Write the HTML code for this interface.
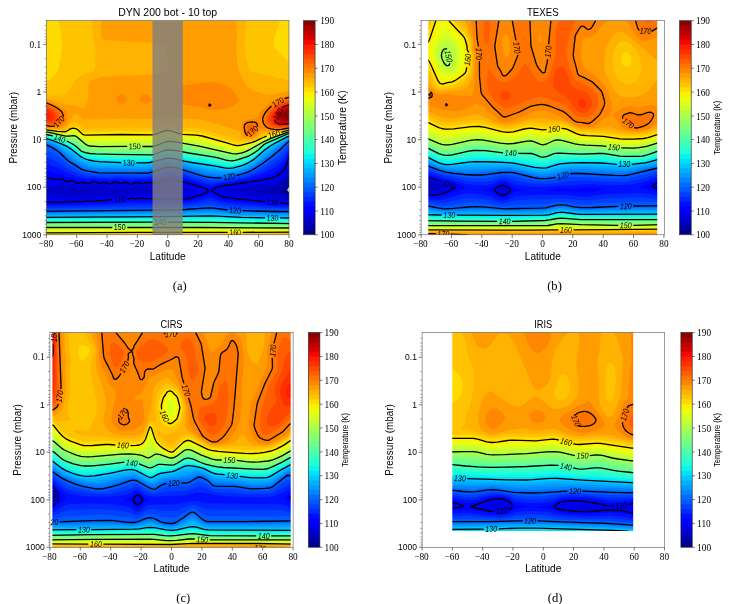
<!DOCTYPE html>
<html><head><meta charset="utf-8"><title>Temperature cross-sections</title>
<style>html,body{margin:0;padding:0;background:#fff}svg{display:block;will-change:transform}text{fill:#000}</style></head>
<body>
<svg width="735" height="604" viewBox="0 0 735 604">
<rect width="735" height="604" fill="#fff"/>
<!-- panel a -->
<g>
<path fill="#000089" d="M41.9 17.7l251.6 0 0 169.4-4.5 0-1.6 2.7 0.1 1 1.5 1.1 4.5 0 0 45.9-251.6 0z"/>
<path fill="#0000a4" d="M41.9 17.7l251.6 0 0 163.2-4.5 0-3 5.8-2.1 3.1-0.1 1 2.4 2 2.8 1.5 4.5 0 0 43.5-251.6 0z"/>
<path fill="#0000bf" d="M41.9 17.7l251.6 0 0 156.9-4.5 0-3.2 7.2-2 3-2.3 2.1-3 1.3-5.8 1.6-1.9 1 10.7 2.4 7.5 3.5 4.5 0 0 41.1-251.6 0z"/>
<path fill="#0000d6" d="M41.9 17.7l251.6 0 0 150.6-4.5 0-3 8-1.5 2.6-3 3.2-3 1.7-9 2.4-25.9 3.6-3 1 4.4 1 32 3.9 4.5 0.9 7.5 2.4 4.5 0 0 38.8-251.6 0 0-45.9 12 0.5 3-0.8 4.5 2.7 1.5-0.2 3-2.6 1.5-0.4 2.6 2.7 1.9 1 1.5-0.1 4.4-2.7 3 2.1 1.5 0.6 1.5 0 4.5-2.8 4.5 2.6 1.5 0 1.5-0.7 3-2.9 4.5 2.9 1.5 0.1 2-1.1 1.8-2-2.3-2.3-1.5-0.9-1.5 0.1-3 2.4-1.5 0.6-4.5-3.9-1.5 0.1-4.5 3.2-4.5-2.7-1.5-0.1-4.5 2.7-1.4-0.6-3-2.6-1.5-0.3-1.5 0.9-3 3.2-1.5-0.4-3-3.3-1.5-0.3-4.5 3.2-4.5-1-10.5 0.4zM113.8 187.8l-2.8 3 0.6 1 2.2 1.6 1.5 0.2 1.5-0.5 2.4-2.3-2.4-2.8-1.5-0.7zM125.8 187.6l-1.5 0.5-2.6 2.7 2.1 2 2 0.6 1.9-0.6 2.1-2-2.5-2.6zM136.3 187.5l-1.5 0.8-2.3 2.5 2.2 2 1.6 0.5 1.9-0.5 2.2-2-0.5-1-2.2-2zM145.2 188.8l-1.8 2 1.8 1.5 1.5 0.2 3-0.9 8.4-0.8-8.4-1.2-3-1.1z"/>
<path fill="#0000f1" d="M41.9 17.7l251.6 0 0 144.4-4.5 0-3 9-1.5 2.8-3 3.5-6 3.2-12 2.8-38 5.4-4.5 1-1.2 1 1.3 1 2 0.7 9 1.7 46.4 5.3 10.5 1.9 4.5 0 0 36.4-251.6 0 0-40.6 15-0.1 4.5 1.1 6-1.2 4.5 1.4 5.9-1.3 4.5 1.2 6-1.5 6 1.1 4.5-1.7 6 1.1 4.5-1.9 6 1.4 4.5-1.8 1.5 0 4.5 1.3 4.5-1.7 1.5-0.1 4.5 1.6 5.9-1.7 4.5 1.3 3-0.5 25.5-0.4 12-1.1 7-1.9 1.8-1-1.1-1-9.2-2.6-16.5-2.1-4.5 0-12 1-3-0.1-3-0.9-1.5 0.3-3 2-1.5-0.3-3-2.3-1.4-0.2-4.5 3-1.5-0.1-4.5-2.7-1.5 0.3-3 2-1.5 0-3-2.4-1.5-0.5-1.5 0.4-3 2.6-1.5 0.3-4.5-2.7-1.5 0-3 1.9-1.5 0.2-4.5-3-1.5 0.1-4.5 3-4.5-2.2-1.5-0.1-4.5 2.1-1.4-0.6-3-2.5-1.5-0.3-4.5 2.9-1.5-0.4-3-2.7-1.5-0.4-4.5 2.1-4.5-1.3-10.5-0.3z"/>
<path fill="#0000ff" d="M41.9 17.7l251.6 0 0 138.7-4.5 0-3 9.5-1.5 3-3.2 3.9-5.8 3.5-6 2-9 2-41.9 6.4-3 1.3-4 2.8 8.5 5.1 7.5 1.8 39.3 4.1 20.6 1.7 6 0.1 0 34.2-251.6 0 0-35.7 41.9-0.4 21-1.1 6-1 4.5 0.2 4.5-0.9 6 0.2 6-1 4.5 0.6 5.9-0.7 4.5 0.7 19.5 0.6 18-0.3 6.7-1.2 6.9-2 5.4-2 5.5-3-4.8-3-12.7-4-8.3-2-12.2-1.9-6 0.2-10.5 2.5-9-0.1-3 1.3-4.5-1.5-1.4 0-4.5 2.3-1.5-0.1-4.5-2-4.5 1-1.5-0.1-3-1.5-1.5-0.2-6 2.6-4.5-1.9-6 1-4.5-2-2.1 0.4-3.9 2.1-6-1.7-4.5 1.3-4.4-2.8-1.5-0.3-4.5 1.5-1.5-0.4-3-2.1-1.5-0.4-4.5 0.7-9-2.1-6-0.2z"/>
<path fill="#0010ff" d="M41.9 17.7l251.6 0 0 134.2-4.5 0-3 9.1-3 5-4.5 3.9-6 3.2-7.3 2.7-9.1 2.4-25.5 4.8-12 1.7-7.5 2.8-1.5 0-6.8-2.7-15.6-4.7-15-2.8-6-0.1-13.5 3.2-6 0-4.5 0.8-5.9-0.7-4.5 1.5-1.5 0-4.5-1.4-4.5 0.3-6-1-6 1.7-4.5-1.1-6 0.3-4.5-1.2-1.5 0-4.5 1.5-6-1.3-4.5 0.1-4.4-2.3-6-0.6-6-2.5-12-3.1-3-0.6-4.5 0zM208.8 194.8l2.3-0.2 9 4.2 7.5 1.6 40.4 3.6 25.5 1.4 0 32.4-251.6 0 0-33.5 50.9-1 39-2.4 10.4-0.1 24 0.9 18-0.3 6-0.9 7.5-1.8z"/>
<path fill="#0028ff" d="M41.9 17.7l251.6 0 0 131.3-4.5 0-3 7.4-1.5 2.7-3 3.5-6 4.5-9.3 4.7-8.6 3.3-10.5 3.1-19.5 3.7-10.5 1.4-6 1.7-3-0.5-22.4-7.1-9-2.1-6-0.7-4.5 0.1-13.5 3.5-10.5 1-5.9-0.5-4.5 1-6-1-4.5 0.2-6-0.7-6 1.2-4.5-0.8-6 0.1-4.5-0.9-7.5 0.6-9-2-4.4-2-6-1.9-9-4.4-9-3.3-3-0.7-4.5 0zM206.7 198.8l2.9-0.8 1.5 0 10.5 3.9 7.5 1.1 38.9 2.9 25.5 1.1 0 30.8-251.6 0 0-31.7 41.9-0.6 48-2.2 34.4 0.5 16.5-0.2 10.5-1.4z"/>
<path fill="#0040ff" d="M41.9 17.7l251.6 0 0 128.4-4.5 0-4.5 8.1-4.5 4.8-9 6.3-12.2 6.5-8.7 3.5-7.5 2.1-16.5 3.2-15 2-3-0.5-25.4-7.8-6-1.5-6-0.7-4.5 0.1-15 4.2-9 0.8-5.9-0.3-6 0.6-4.5-0.7-10.5-0.3-6 0.7-10.5-0.5-6-0.9-6 0-7.5-2-10.4-4.7-10.5-6.7-7.5-3.5-4.5-1.5-4.5 0zM207.5 201.8l3.6-0.3 10.5 2.9 7.5 1 37.4 2.3 27 0.9 0 29.2-251.6 0 0-29.9 41.9-0.5 48-1.6 50.9-0.2 9-0.8z"/>
<path fill="#0058ff" d="M41.9 17.7l251.6 0 0 125.8-4.5 0-6 7.6-6 5.5-9.8 7.2-10.2 6-6.9 3.3-6 2.1-21 4.3-13.5 0.4-29.9-8.9-9-1.4-4.5 0.1-15 4.7-9 0.9-43.4-0.6-12-1.4-6-1.7-11.9-6.5-9-7.4-6-3.7-7.5-3.2-4.5 0zM201.9 205.8l9.2-0.9 12 2.3 6 0.7 35.9 1.7 28.5 0.6 0 27.6-251.6 0 0-28.1 139.3-1.9z"/>
<path fill="#006cff" d="M41.9 17.7l251.6 0 0 123.5-4.5 0-10.2 9.6-8.4 7-9.6 7-9.2 5.5-9 3.6-19.5 3.9-7.5 0.1-9-1-28.4-8.6-7.5-1.1-4.5 0.2-16.5 5.3-7.5 0.6-43.4-0.5-12-1.9-6-2-11.9-7.6-9-8.5-6-4.3-7.5-3.7-4.5 0zM196.6 208.8l14.5-0.8 13.8 1.8 14.7 0.8 53.9 1.1 0 26.1-251.6 0 0-26.5 134.8-1.5z"/>
<path fill="#0084ff" d="M41.9 17.7l251.6 0 0 122-4.6 0.1-14.9 12.4-11.2 8.6-7.1 5-5.6 3.3-9 3.5-15 2.9-7.5 0.3-12-1.3-28.4-8.1-7.5-1.1-4.5 0.2-15 4.8-7.5 0.9-44.9-0.7-10.5-1.6-6-1.8-13.4-8.8-8.4-7.5-6-4-6.6-3.3-1.5-0.5-4.5 0zM190.5 210.8l20.6-0.9 15 1.5 13.5 0.7 53.9 0.9 0 24.8-251.6 0 0-25.2 122.8-1.1z"/>
<path fill="#009cff" d="M41.9 17.7l251.6 0 0 121-4.5 0-1.5 0.9-29.1 22.2-8.3 5.4-9 3.7-12 2.5-9 0.3-13.5-1.7-29.9-7.6-7.5-0.9-3.4 0.3-14.6 4.4-7.5 0.9-44.9-0.9-10.5-1.6-6-2-13.4-9.1-7.2-5.7-4.5-3-9.3-4.6-6-0.3zM197.6 211.8l13.5-0.4 30 2.1 52.4 0.8 0 23.5-251.6 0 0-24 127.3-1z"/>
<path fill="#00b0ff" d="M41.9 17.7l251.6 0 0 120.1-4.5 0-1.9 1-17.5 12-15 11.7-6 3.6-7.5 3.1-10.5 2.3-9 0.1-15-2-11.9-2.5-18-4.4-7.5-1-3 0.1-15 4.4-7.5 0.8-44.9-1-10.5-1.6-6-2.3-23.9-16.3-10.5-4.7-6-0.3zM184.3 213.8l26.8-0.9 31.5 1.9 50.9 0.7 0 22.3-251.6 0 0-22.8z"/>
<path fill="#00c8ff" d="M41.9 17.7l251.6 0 0 119.2-4.5 0-1.5 0.7-12.3 7.2-10.2 7-10.4 8.8-6 3.7-7.5 3.2-10.5 2.4-7.5-0.3-19.5-2.9-26.9-5.7-7.5-1.1-3 0.1-15 4.1-7.5 0.8-44.9-1.2-9-1.3-6-2-3-1.7-11.9-8.7-9.1-5.2-11.9-4.8-6-0.3zM194.7 214.8l17.9-0.3 30 1.7 50.9 0.6 0 21-251.6 0 0-21.7 122.8-0.6z"/>
<path fill="#00e0fb" d="M41.9 17.7l251.6 0 0 118.4-4.5 0-1.5 0.6-13.6 7.1-8.9 5.9-10.4 9.1-7.5 4.6-4.5 2-6 1.8-7.5 1.1-32.9-5-27-5.2-3 0.2-15 3.9-6 0.7-32.9-0.6-19.5-1.4-6-1.3-4.5-2.1-11.9-8.9-9.1-4.8-13.4-4.8-6-0.3zM160.3 216.8l50.8-0.9 31.5 1.5 50.9 0.6 0 19.8-251.6 0 0-20.5z"/>
<path fill="#0cf4eb" d="M41.9 17.7l251.6 0 0 117.8-4.5 0-1.5 0.5-15.6 7.8-8.4 5.6-8.9 8-7.5 4.5-9 3.4-7.5 1.4-4.5-0.3-10.5-2.2-22.4-3.3-24-4.4-4.5 0.5-12 3.4-7.5 0.8-34.4-0.6-19.5-1.5-4.5-1-4.5-1.9-11.9-9.1-8.4-4.3-14.1-4.8-6-0.3zM175.3 217.8l35.8-0.5 31.5 1.2 50.9 0.6 0 18.7-251.6 0 0-19.5z"/>
<path fill="#1fffd7" d="M41.9 17.7l251.6 0 0 117.1-4.5 0-1.5 0.6-17.3 8.4-6.7 4.3-8.9 8.1-7.5 4.4-9 3.3-7.5 1.3-4.5-0.3-12-2.7-19.4-2.8-19.5-3.8-6-0.7-4.5 0.4-12 3.7-6 0.6-34.4-0.5-21-1.4-4.5-0.9-4.5-1.7-10.8-8.3-9.4-5-14.2-4.7-6-0.2zM183.7 218.8l28.9-0.2 30 1 50.9 0.7 0 17.5-251.6 0 0-18.4z"/>
<path fill="#33ffc4" d="M41.9 17.7l251.6 0 0 116.7-4.5 0-1.5 0.5-19 8.9-5 3.2-8.9 8-7.5 4.3-9 3.2-7.5 1.2-4.5-0.4-12-2.9-23.9-3.6-15-2.9-6-0.6-4.5 0.4-10.5 3.6-6 0.7-35.9-0.5-22.5-1.3-7.5-2.2-10.7-8.2-10.2-5.4-13.5-4.1-6-0.2zM41.9 220.8l0-0.4 164.7-0.6 86.9 1.6 0 16.4-251.6 0z"/>
<path fill="#43ffb4" d="M41.9 17.7l251.6 0 0 116.2-4.5 0-1.5 0.5-20.7 9.4-3.3 2.1-8.9 7.9-7.5 4.2-10.5 3.5-6 0.7-4.5-0.5-12-3-23.9-3.7-13.5-2.6-7.5-0.7-4.5 0.4-10.5 3.9-3 0.4-35.9-0.4-25.5-1.1-7.5-2-10.4-8.1-10.5-5.3-13.5-4-6-0.2zM41.9 221.8l0-0.3 158.7-0.4 92.9 1.4 0 15.3-251.6 0z"/>
<path fill="#56ffa0" d="M41.9 17.7l251.6 0 0 115.8-4.5 0-1.5 0.5-20.3 8.8-3.7 2.1-8.9 7.7-7.5 4.1-9 3-6 1.1-6-0.7-13.1-3.3-36.3-6.1-6-0.6-6 0.4-10.5 4-3 0.4-41.9-0.6-21-1-6-1.6-8.5-6.9-11.9-6-13.9-4-6.1-0.3zM41.9 222.8l0-0.3 31.5-0.2 115.3-0.1 104.8 1.4 0 14.2-251.6 0z"/>
<path fill="#6aff8d" d="M41.9 17.7l251.6 0 0 115.4-4.5 0-1.5 0.5-19.6 8.2-5.2 3-8.1 6.7-7.5 4.1-9 2.9-6 0.8-6-0.7-13.5-3.4-35.9-6.2-6-0.6-6 0.4-10.5 4.2-3 0.3-46.4-0.6-15-0.7-4.5-0.9-3-1.2-7.4-6.2-13.4-5.9-13.6-3.7-6-0.2zM41.9 223.8l0-0.3 28.5-0.1 110.8-0.1 112.3 1.2 0 13.3-251.6 0z"/>
<path fill="#7dff7a" d="M41.9 17.7l251.6 0 0 115-4.5 0-1.5 0.5-20.8 8.6-3.5 2-8.6 6.5-9 4.8-7.5 2.2-6 0.6-6-0.8-16.5-4-32.9-5.8-6-0.6-6 0.5-10.5 4.1-3 0.4-50.9-0.6-10.5-0.5-3.5-0.8-4-2-5.9-5.1-3-1.7-19.9-6.2-7.1-1.5-4.5 0zM41.9 224.8l137.8-0.5 113.8 1.1 0 12.4-251.6 0z"/>
<path fill="#8dff6a" d="M41.9 17.7l251.6 0 0 114.7-4.5 0-1.5 0.4-19.5 7.8-4.5 2.3-11.9 8-6 3.1-7.5 2.1-4.5 0.5-6-0.7-12-3.1-13.5-2.6-25.4-4.6-6-0.6-3 0-3 0.5-12 4.4-52.4-0.2-10.5-0.6-3-0.8-2.9-1.5-7.5-6.2-3-1.4-6-1-7.9-2.4-10.1-2.5-3-0.5-4.5 0zM41.9 225.8l137.8-0.4 113.8 0.9 0 11.5-251.6 0z"/>
<path fill="#a0ff56" d="M41.9 17.7l251.6 0 0 114.3-4.5 0-1.5 0.5-19.5 7.6-5.2 2.7-17.2 10-7.5 2.1-4.5 0.4-6-0.9-28.5-6.5-22.4-4-6-0.6-3 0-3 0.5-9 3.7-3 0.8-52.4-0.1-9-0.4-3-0.5-3-1.4-10.4-8.1-9-0.8-18-4.4-6-0.2zM41.9 226.8l136.3-0.4 115.3 0.7 0 10.7-251.6 0z"/>
<path fill="#b4ff43" d="M41.9 17.7l251.6 0 0 114-4.5 0-1.5 0.4-21 8.2-20.9 11.3-6 1.7-4.5 0.6-7.6-1.1-28.4-6.7-22.4-3.9-7.5-0.7-4.5 0.6-9 3.7-3 0.7-53.9 0.1-7.5-0.4-3-0.5-1.9-0.9-11.5-9-9 0.3-18-3.9-6-0.3zM41.9 227.8l133.3-0.3 118.3 0.5 0 9.8-251.6 0z"/>
<path fill="#c4ff33" d="M41.9 17.7l251.6 0 0 113.6-4.5 0-1.5 0.4-22.5 8.6-19.4 9.9-6 1.7-4.5 0.4-4.5-0.7-30-7.2-31.4-5-4.5 0.5-9 3.7-3 0.7-53.9 0.2-9-0.5-4.5-1.7-8.9-7.3-1.5-0.8-1.5-0.2-7.5 1.2-18-3.5-6-0.2zM41.9 228.8l128.8-0.3 122.8 0.4 0 8.9-251.6 0z"/>
<path fill="#d7ff1f" d="M41.9 17.7l251.6 0 0 113.3-4.5 0-1.5 0.4-21 7.5-20.9 9.9-4.5 1.2-4.5 0.7-4.5-0.5-31.5-7.9-17.9-2.4-13.5-2.7-4.5 0.5-9 3.5-3 0.7-59.9 0.1-4.5-0.4-3-1.1-3-1.9-5.6-4.8-1.8-1-3 0-4.5 1.4-3 0.1-16.5-3-6-0.2zM41.9 229.8l119.8-0.4 131.8 0.3 0 8.1-251.6 0z"/>
<path fill="#ebff0c" d="M41.9 17.7l251.6 0 0 113-6 0.4-21 6.9-20.9 9.3-4.5 1.2-4.5 0.6-4.5-0.7-30-8-19.4-2.3-13.5-3.1-4.5 0.5-9 3.4-3 0.7-31.4-0.2-28.5 0.4-4.5-0.3-4.5-1.3-6-5.1-2.9-1.7-3-0.1-4.5 1.8-3 0.4-18-2.8-4.5 0zM41.9 230.8l113.8-0.4 137.8 0.2 0 7.2-251.6 0z"/>
<path fill="#fbf100" d="M41.9 17.7l251.6 0 0 112.6-6 0.4-21 6.5-11.9 5.3-7.5 2.8-6 1.7-4.5 0.5-3-0.5-31.5-8.7-19.4-1.9-13.5-3.5-4.5 0.3-12 4.1-31.4-0.3-31.5 0.5-6-0.8-1.5-0.8-5.6-5.1-3.3-1.1-1.5 0.2-4.5 2.1-3 0.7-18-2.5-4.5 0zM49.8 231.8l243.7-0.4 0 6.4-251.6 0 0-6z"/>
<path fill="#ffdb00" d="M41.9 17.7l251.6 0 0 112.3-4.5 0-20.8 5.8-4.7 1.5-10.4 4.8-6 1.7-9 1.9-4.5-0.7-31.5-9-5.9-0.8-13.5-0.8-12-3.6-3-0.4-4.5 0.9-10.5 3.5-31.4-0.3-34.5 0.7-3-0.3-1.5-0.8-4.5-4.3-1.4-0.9-3-0.7-3 0.7-3 1.9-3 1-7.5-0.5-10.5-1.5-4.5 0zM59.2 232.8l234.3-0.6 0 5.6-251.6 0 0-4.9z"/>
<path fill="#ffc400" d="M58.6 17.7l221.3 0-0.5 5-5 15-0.4 8.6 0.6 1.4 1.7 2 11.2 11 1.5 1.1 4.5 0 0 67.9-4.5 0-10.5 2.9-13.5 2.9-4.5 1.7-4.4 2.6-4.5 1.4-13.5 1.2-4.5-0.7-31.5-9.1-4.4-0.7-15-0.8-12-3.6-3-0.5-4.5 0.9-9 3.2-3 0.3-29.9-0.3-37.5 0.8-1.5-0.6-4.5-4.2-2.9-1-3 0.4-4.8 3.3-2.7 1.1-6-0.1-12-1.5-4.5 0 0-48.7 4.5 0 1.5-0.6 4.8-3.3 4.2-4.2 1.5-3.1 3.8-21.7-0.8-11.4-2.8-15.6zM72.6 233.8l220.9-0.9 0 4.9-251.6 0 0-3.8z"/>
<path fill="#ffb200" d="M92.1 17.7l153.7 0-0.4 20-0.8 10 1 7 3.4 15 2.6 2 3 0.9 17.9 3.6 15 4.2 6 0.3 0 48.6-4.5 0-14.5 3.5-11 1-3 1.1-3.5 2.9-2.4 1.2-7.5 1.2-12-1.7-33-9.5-4.4-0.7-15-0.8-12-3.6-3-0.5-4.5 0.9-10.5 3.5-31.4-0.4-36 1-3-0.7-4.5-4.3-2.9-1-3 0.6-4.7 4.8-3 2-5.8 0.3-12-1.3-4.5 0 0-34.7 4.5 0 12 1.8 3-0.3 2.4-0.9 2.8-2 2.3-2.5 6-9.5 3.1-3 5.8-3.5 9-2.6 2.3-1.9 0.6-22-2.9-10zM270.5 233.8l23-0.2 0 4.2-120.1 0 0-3z"/>
<path fill="#ff9c00" d="M100.8 17.7l135.1 0 1.2 20-1.2 10 2 21 0.6 2 5.9 12 2.7 3.9 3 2.1 4.5 2.2 11.9 4.2 4.5 0 16.5-4 6-0.2 0 38.1-4.5 0-13.5 2.8-13.5-0.2-1.5 0.7-3.4 3.5-2.5 1.7-3 0.8-4.5 0.3-3-0.7-1.9-1.1-2.6-4.7-1.5-1.6-9-3-27-7.6-4.4-0.7-15-0.8-13.5-3.9-4.5 0.3-12 3.9-31.4-0.3-37.5 1-1.5-0.5-4.5-4.2-1.4-0.7-1.5 0-1.5 0.9-1.9 3.8-4.3 6-1.8 2-2.5 1.5-6 0.9-10.5-1.1-4.5 0 0-29.3 6 0.3 18 6.1 7.5 0.2 4.4 1.2 3 1.5 1.5 0.4 1.5-0.3 2.2-2.4 1.7-5 1.2-18 1-2 10.4-3.1 10.5-1.5 44.9-1.6 7.5-2.1 4.5-2.7 0.3-2-1.7-19-0.8-2-0.8-0.6-4.5-2.2-6-1.2-35.9-1.6-12-1-3-0.8-1.5-1.6-0.2-1zM271.2 234.8l22.3-0.4 0 3.4-22.3 0z"/>
<path fill="#ff8600" d="M202 82.7l7.6-0.4 7.5 0.3 4.5 0.8 4.5 1.8 4.5 2.8 3 2.9 4.5 7.7 0.1 2.1-3.1 3.6-4.5 2.7-6 1.8-7.5 0.9-9-0.3-7.5-2.3-14.9-2.1-4.7-1.3-4.5-3-0.7-2 2-7 2.4-4 2.5-1.8 3-0.9zM119.7 94.7l1.6-0.7 1.5 0 1.5 0.9 1.5 1.9 1.1 2.9-1.1 2-1.5 1.4-1.5 0.6-3-0.4-3.2-2.6-0.3-1 0.5-1.6zM142.9 94.7l2.3-0.8 1.5 0.4 3 2.4 2.3 3-2 2-3.3 1.8-3 0.1-1.5-0.7-1.5-1.2-1.1-2 1.1-2.7zM285.5 95.7l3.5-0.8 4.5 0 0 33.6-4.5 0-9 1.9-4.5 0.4-4.5-0.4-9-1.9-1.5 0.3-4.4 6-3 1.8-6 0.5-2.7-1.3-1.4-3-1.2-6.1 0.5-3 1.2-2 2.1-1.5 1.5-0.4 6.9-1.1 2.8-1 5.6-8 5.4-5 9.2-5.7zM41.9 101.7l0-0.5 4.5 0 4.5 1.4 7 3.1 8.1 5 0.7 2 0.4 7-1 3-1.7 2-3.8 2-4.5 1.1-14.2-0.8z"/>
<path fill="#ff7300" d="M287.4 97.7l6.1-0.3 0 30.6-4.5 0-7.5 1.4-4.5 0.3-6.1-0.9-5-2.1-2.2-3-1.1-4 0.6-3 2.8-5 4.7-5 4.8-3.6 6-3.3zM41.9 103.7l0-0.5 4.5 0 3 0.9 6 2.9 5.5 3.7 1.4 2 1.2 4 0.1 4-0.8 2-2.9 2.1-4.5 1.3-3 0.3-10.5-0.7zM208.8 104.7l0.8-0.6 1.1 0.6-0.3 1-0.8 0.4-0.6-0.4zM247 122.7l6.1-0.7 2.8 0.7 1 1 0.6 3-0.9 4.1-1.8 3-1.7 1.1-4.5 0.7-1.5-0.4-1.5-1.6-1.3-6.9 0.5-2z"/>
<path fill="#ff5d00" d="M287.1 99.7l6.4-0.4 0 27.9-4.5 0-6 1.2-4.5 0.2-4.5-0.6-4.5-1.5-2.4-2.8-1.1-4 0.3-3 2-4 3.5-4 4.9-4 4.8-2.8zM41.9 105.7l0-0.8 4.5 0 1.5 0.4 5.1 2.4 4.3 3 1.9 3 1.1 3 0.2 3-0.6 2.1-2.7 1.9-3.3 1-12-0.3zM249.9 124.7l3.2 0.3 1.4 1.7-0.1 2.1-0.8 2-0.5 0.9-1.5 0.9-1.5 0.2-1.5-0.6-1.5-2.7 0-3 1.5-1.4z"/>
<path fill="#ff4700" d="M286 101.7l3-0.8 4.5 0 0 25.5-4.5 0-9 1.1-4.5-0.5-3.6-1.3-2.1-2-1.2-3 0.2-4 1.2-3 3.2-4 3.4-3 4.9-3zM41.9 106.7l4.5-0.1 1.5 0.4 3.5 1.7 2.8 2 2 3 1.1 3 0.1 3-1.2 2-2.3 1.1-3 0.5-9-0.4z"/>
<path fill="#ff3000" d="M287.4 102.7l6.1-0.3 0 23-4.5 0-4.5 0.9-4.5 0.2-4.3-0.8-2.3-1-1.8-2-1-3 0.3-3 1.1-3 2.4-3 4.1-3.6 4.5-2.7zM41.9 108.7l0-0.4 4.5 0 4.6 2.4 1.7 2 1.5 3 0.2 2-0.5 2.1-1 0.9-2 0.7-9 0z"/>
<path fill="#ff1e00" d="M288.8 103.7l4.7 0 0 20.8-4.5 0-7.5 1-4.5-0.7-2.2-1.1-1.6-2-0.7-3 0.5-3 1.5-3 2.8-3 4.1-3 4.6-2.2zM41.9 110.7l4.5-0.1 1.5 0.8 2.5 3.3 0.4 2-0.3 1-1.1 1.1-1.5 0.4-6 0z"/>
<path fill="#f10800" d="M286.2 105.7l2.8-0.7 4.5 0 0 18.5-4.5 0-7.5 0.9-4.5-1.1-1.7-1.6-0.8-2 0-3 1.1-3 1.5-2 2.9-2.6z"/>
<path fill="#d60000" d="M286.9 106.7l2.1-0.5 4.5 0 0 16.4-4.5 0-6 0.8-4.5-1-1.6-1.7-0.7-2 0-2 1.2-3 3.7-4z"/>
<path fill="#bf0000" d="M287.6 107.7l5.9-0.3 0 14.2-10.5 0.6-3-0.9-1.5-1.6-0.5-2 0.2-2 0.9-2 1.6-2 2.3-1.8z"/>
<path fill="#a40000" d="M285.9 109.7l3.1-1 4.5 0 0 11.7-9 0.5-3-0.9-1.2-1.3-0.4-2 1.1-3 2-2.2z"/>
<path fill="#890000" d="M287.4 110.7l6.1-0.3 0 8.5-7.5 0.4-2.3-0.6-1.1-1-0.2-2 0.9-2 2.2-2z"/>
<path d="M293.5 156.4l-4.5 0-3 9.5-1.5 3-1.5 2.1-1.7 1.8-2.8 2-3 1.5-6 2-9 2-41.9 6.4-3 1.3-2.9 1.8-1.1 1 7 4.3 3 1.4 1.5 0.4 4.9 0.9 37 3.8M280 202.9l9 0.7 4.5 0M41.9 202.1l19.5 0 6-0.3 4.5 0.1 5.9-0.4 4.5 0.2 6-0.6 6 0.1 4.5-0.6 4.5 0.1 6-1 3 0.1M127.3 199l3-0.7 1.5-0.2 4.5 0.6 5.9-0.7 4.5 0.7 6 0 13.5 0.6 10.5-0.1 9-0.4 5.2-1 9.8-3 4.6-2 3.4-2-1.1-1-3.7-2-6-2-10.4-3-10.1-2-5.2-0.8-4.5-0.2-3 0.3-7.5 1.9-3 0.6-4.5 0.1-3-0.4-1.5 0.2-3 1.3-1.5-0.2-3-1.3-1.4 0-1.6 0.5-2.9 1.8-1.5-0.1-3-1.6-1.5-0.4-1.5 0-3 1-1.5-0.1-3-1.5-1.5-0.2-1.5 0.3-3 1.9-1.5 0.4-4.5-1.9-1.5 0-3 0.9-1.5 0.1-3-1.6-1.5-0.4-2.1 0.4-3.9 2.1-1.5-0.2-3-1.3-1.5-0.2-4.5 1.3-1.4-0.7-3-2.1-1.5-0.3-1.5 0.3-3 1.2-1.5-0.4-3-2.1-1.5-0.4-3 0.7-1.5 0-3-0.9-6-1.2-1.5-0.2-4.5 0M293.5 141.2l-4.5 0-1.5 1.2-6.4 6.4-9.5 8-9.4 7-6.2 4-4.4 2.5-4.5 2.1-4.5 1.5-6.1 1.4M221.7 178l-7.6-0.1-7.5-1-4.5-1.1-23.9-7.5-3-0.6-4.5-0.5-3 0-1.5 0.2-13.5 4.5-3.6 0.9-3.9 0.4-46-0.4-10.9-1.6-4.5-1.1-3-1.2-4.4-3-6-3.5-3.4-2.6-7.1-7-3-2.3-4.5-2.9-6-2.8-4.5 0M41.9 211.3l135.7-1.5 8.1-0.3 17.9-1.3 6-0.2 4.5 0.2 13.5 1.8M242.6 210.7l29.9 0.8 21 0.2M293.5 136.1l-4.5 0-1.5 0.6-11.8 6.1-5 3-5.7 3.9-8.9 7.9-3 2.3-3 1.8-3 1.7-4.5 2-9 2.5-4.5 0.4-4.5-0.4-10.5-2.1-22.4-3.3-7.5-1.4-9-2.1-6-0.9-3 0.2-10.5 2.9-6 1.3-4.5 0.4-8.9-0.1M121.2 162.6l-22.4-1-4.5-0.5-6-1.1-3-1-3-1.5-3-1.9-8.9-7-3-1.9-6-2.9-7.9-3-5.6-1.8-1.5-0.3-4.5 0M41.9 217.3l124.3-0.6 43.4-0.8 7.5 0.2 24 1.3 23.9 0.4M280.1 217.9l13.4 0.1M293.5 133.5l-4.5 0-1.5 0.5-20.3 8.8-3.7 2.1-5.9 5.5-3 2.2-4.5 2.7-3 1.4-9 3-3 0.7-3 0.4-3-0.2-3-0.5-9-2.5-4.1-0.8-24.3-3.8-12-2.3-6-0.6-3-0.1-3 0.5-4.5 1.5-6 2.5-3 0.4-37.4-0.5-18-0.5-6-0.4-4.5-0.8-3-1-1.5-1-3.1-2.9-2.8-2.3-2.8-1.7-5.3-2.8M52.7 135.9l-6.3-1.4-4.5 0M41.9 222.5l110.8-0.3M167.7 222.2l44.9 0.2 80.9 1.2M293.5 131.7l-4.8 0.1-17.7 6.6-7.5 3.4-14.9 8.4-3 1.4-3.6 1.2-5.4 1-4.5-0.1-33-7.6-22.4-3.9-6-0.7-3 0-3 0.6-9 3.7-3 0.7-10.4 0M127.2 146.4l-28.4 0.2-9-0.6-1.5-0.3-3-1.6-8.9-7.5-1.5-0.8-1.5-0.2-4.5 0.6-3-0.1-18-3.9-1.5-0.3-4.5 0M41.9 227.5l70.4 0M127.3 227.5l73.3 0 92.9 0.5M293.5 130l-4.5 0-7.7 2.3M266.7 136.2l-4.7 1.8-5.9 2.9-4.5 1.7-10.5 2.6-3 0.5-1.5-0.1-3-0.6-6-1.9-25.5-7.1-5.9-0.8-13.5-0.8-2.8-0.6-9.2-3-3-0.4-1.5 0.1-3 0.8-7.5 2.8-3 0.7-31.4-0.3-34.5 0.7-3-0.3-1.5-0.8-4.5-4.3-1.4-0.9-3-0.7-1.5 0.1-1.5 0.6-3 1.9-1.5 0.7-1.5 0.3-7.5-0.5-10.5-1.5-4.5 0M41.9 232.9l97.3-0.5 88.4-0.1M242.6 232.3l50.9-0.1M41.9 103.2l4.5 0 1.5 0.3 4.5 1.9 4.3 2.3 2.9 2 2.1 2 1 2 0.8 3.2M54.7 126.2l-3.8 0.1-4.5-0.6-4.5 0M208.8 104.7l0.8-0.6 1.1 0.6-0.3 1-0.8 0.4-0.6-0.4-0.2-1M247 122.7l1.6-0.4 3-0.3 3 0.2 1.3 0.5 1 1 0.4 1 0.2 2.1M247.8 135.4l-1.3-0.6-0.9-1.2-0.9-2.8-0.4-3 0.1-2.1 0.4-1 0.8-1 1.4-1M293.5 128l-4.5 0-7.5 1.4-4.5 0.3-3-0.3-3.1-0.6-3.2-1-1.8-1.1-1.6-2-1-2-0.7-3 0.2-2 1.3-3 1.9-3 2.6-3 2.9-2.7M284.5 98.6l4.5-1.2 4.5 0M293.5 123.5l-4.5 0-6 0.9-3-0.1-2-0.6-1.8-1-0.9-1-0.8-1.9M281.9 107.8l2.6-1.4 3-1.1 1.5-0.3 4.5 0" fill="none" stroke="#000" stroke-width="1.3" stroke-linejoin="round"/>
</g>
<path fill="#fff" fill-rule="evenodd" d="M40.4 16.2h254.6v223.1h-254.6z M46.4 20.7h242.6v214.1h-242.6z"/>
<clipPath id="aca"><rect x="46.4" y="20.7" width="242.6" height="214.1"/></clipPath>
<g clip-path="url(#aca)">
<g font-family="'Liberation Sans',sans-serif" font-size="8.4" text-anchor="middle" fill="#000">
<text transform="translate(119.8 199.4) rotate(-3)" y="2.9" textLength="11.9" lengthAdjust="spacingAndGlyphs">110</text>
<text transform="translate(272.5 202.2) rotate(4.9)" y="2.9" textLength="11.9" lengthAdjust="spacingAndGlyphs">110</text>
<text transform="translate(229.1 176.6) rotate(-10.1)" y="2.9" textLength="11.9" lengthAdjust="spacingAndGlyphs">120</text>
<text transform="translate(235.1 210.4) rotate(2.7)" y="2.9" textLength="11.9" lengthAdjust="spacingAndGlyphs">120</text>
<text transform="translate(128.8 162.7) rotate(0.9)" y="2.9" textLength="11.9" lengthAdjust="spacingAndGlyphs">130</text>
<text transform="translate(272.5 217.9) rotate(0.5)" y="2.9" textLength="11.9" lengthAdjust="spacingAndGlyphs">130</text>
<text transform="translate(59.7 138.4) rotate(19.9)" y="2.9" textLength="11.9" lengthAdjust="spacingAndGlyphs">140</text>
<text transform="translate(160.2 222.2) rotate(0)" y="2.9" textLength="11.9" lengthAdjust="spacingAndGlyphs">140</text>
<text transform="translate(134.8 146.4) rotate(0.6)" y="2.9" textLength="11.9" lengthAdjust="spacingAndGlyphs">150</text>
<text transform="translate(119.8 227.5) rotate(0)" y="2.9" textLength="11.9" lengthAdjust="spacingAndGlyphs">150</text>
<text transform="translate(274 134.2) rotate(-14.8)" y="2.9" textLength="11.9" lengthAdjust="spacingAndGlyphs">160</text>
<text transform="translate(235.1 232.3) rotate(-0.1)" y="2.9" textLength="11.9" lengthAdjust="spacingAndGlyphs">160</text>
<text transform="translate(59.1 121.6) rotate(-46.3)" y="2.9" textLength="11.9" lengthAdjust="spacingAndGlyphs">170</text>
<text transform="translate(278 102.3) rotate(-29.7)" y="2.9" textLength="11.9" lengthAdjust="spacingAndGlyphs">170</text>
<text transform="translate(252.6 131.1) rotate(-41.3)" y="2.9" textLength="11.9" lengthAdjust="spacingAndGlyphs">170</text>
<text transform="translate(274 237.9) rotate(0)" y="2.9" textLength="11.9" lengthAdjust="spacingAndGlyphs">170</text>
<text transform="translate(278.2 113.8) rotate(-58.4)" y="2.9" textLength="11.9" lengthAdjust="spacingAndGlyphs">180</text>
</g>
<rect x="152.5" y="20.7" width="30.3" height="214.1" fill="#808080" fill-opacity="0.81"/>
</g>
<rect x="46.4" y="20.7" width="242.6" height="214.1" fill="none" stroke="#4a4a4a" stroke-width="0.55"/>
<path d="M46.4 234.8h-3.2M46.4 187.2h-3.2M46.4 139.6h-3.2M46.4 92h-3.2M46.4 44.4h-3.2M46.4 234.8v3.2M76.7 234.8v3.2M107.1 234.8v3.2M137.4 234.8v3.2M167.7 234.8v3.2M198 234.8v3.2M228.3 234.8v3.2M258.7 234.8v3.2M289 234.8v3.2" stroke="#222" stroke-width="0.6" fill="none"/>
<path d="M46.4 25.5h-1.8M46.4 30.1h-1.8M46.4 33.8h-1.8M46.4 37h-1.8M46.4 39.8h-1.8M46.4 42.2h-1.8M46.4 58.7h-1.8M46.4 67.1h-1.8M46.4 73.1h-1.8M46.4 77.7h-1.8M46.4 81.4h-1.8M46.4 84.6h-1.8M46.4 87.4h-1.8M46.4 89.8h-1.8M46.4 106.3h-1.8M46.4 114.7h-1.8M46.4 120.7h-1.8M46.4 125.3h-1.8M46.4 129h-1.8M46.4 132.2h-1.8M46.4 135h-1.8M46.4 137.4h-1.8M46.4 153.9h-1.8M46.4 162.3h-1.8M46.4 168.3h-1.8M46.4 172.9h-1.8M46.4 176.6h-1.8M46.4 179.8h-1.8M46.4 182.6h-1.8M46.4 185h-1.8M46.4 201.5h-1.8M46.4 209.9h-1.8M46.4 215.9h-1.8M46.4 220.5h-1.8M46.4 224.2h-1.8M46.4 227.4h-1.8M46.4 230.2h-1.8M46.4 232.6h-1.8" stroke="#333" stroke-width="0.45" fill="none"/>
<text x="41.2" y="237.9" font-family="'Liberation Sans',sans-serif" font-size="8.5" text-anchor="end">1000</text>
<text x="41.2" y="190.3" font-family="'Liberation Sans',sans-serif" font-size="8.5" text-anchor="end">100</text>
<text x="41.2" y="142.7" font-family="'Liberation Serif',serif" font-size="9.3" text-anchor="end">10</text>
<text x="41.2" y="95.1" font-family="'Liberation Sans',sans-serif" font-size="8.5" text-anchor="end">1</text>
<text x="41.2" y="47.5" font-family="'Liberation Serif',serif" font-size="9.3" text-anchor="end">0.1</text>
<g font-family="'Liberation Serif',serif" font-size="9.3" text-anchor="middle">
<text x="45.8" y="247.1">−80</text>
<text x="76.1" y="247.1">−60</text>
<text x="106.5" y="247.1">−40</text>
<text x="136.8" y="247.1">−20</text>
<text x="167.7" y="247.1">0</text>
<text x="198" y="247.1">20</text>
<text x="228.3" y="247.1">40</text>
<text x="258.7" y="247.1">60</text>
<text x="289" y="247.1">80</text>
</g>
<text x="167.7" y="259.7" font-family="'Liberation Sans',sans-serif" font-size="11.3" text-anchor="middle" textLength="36" lengthAdjust="spacingAndGlyphs">Latitude</text>
<text transform="translate(17 127.8) rotate(-90)" font-family="'Liberation Sans',sans-serif" font-size="11.3" text-anchor="middle" textLength="71.5" lengthAdjust="spacingAndGlyphs">Pressure (mbar)</text>
<text x="167.7" y="16.3" font-family="'Liberation Sans',sans-serif" font-size="11.3" text-anchor="middle" textLength="99" lengthAdjust="spacingAndGlyphs">DYN 200 bot - 10 top</text>
<text x="179.7" y="289.7" font-family="'Liberation Serif',serif" font-size="12.6" text-anchor="middle">(a)</text>
<rect x="302.5" y="19.7" width="13.6" height="215.10" fill="#000089"/>
<rect x="302.5" y="19.7" width="13.6" height="210.34" fill="#0000a4"/>
<rect x="302.5" y="19.7" width="13.6" height="205.58" fill="#0000bf"/>
<rect x="302.5" y="19.7" width="13.6" height="200.83" fill="#0000d6"/>
<rect x="302.5" y="19.7" width="13.6" height="196.07" fill="#0000f1"/>
<rect x="302.5" y="19.7" width="13.6" height="191.31" fill="#0000ff"/>
<rect x="302.5" y="19.7" width="13.6" height="186.55" fill="#0010ff"/>
<rect x="302.5" y="19.7" width="13.6" height="181.80" fill="#0028ff"/>
<rect x="302.5" y="19.7" width="13.6" height="177.04" fill="#0040ff"/>
<rect x="302.5" y="19.7" width="13.6" height="172.28" fill="#0058ff"/>
<rect x="302.5" y="19.7" width="13.6" height="167.52" fill="#006cff"/>
<rect x="302.5" y="19.7" width="13.6" height="162.76" fill="#0084ff"/>
<rect x="302.5" y="19.7" width="13.6" height="158.01" fill="#009cff"/>
<rect x="302.5" y="19.7" width="13.6" height="153.25" fill="#00b0ff"/>
<rect x="302.5" y="19.7" width="13.6" height="148.49" fill="#00c8ff"/>
<rect x="302.5" y="19.7" width="13.6" height="143.73" fill="#00e0fb"/>
<rect x="302.5" y="19.7" width="13.6" height="138.98" fill="#0cf4eb"/>
<rect x="302.5" y="19.7" width="13.6" height="134.22" fill="#1fffd7"/>
<rect x="302.5" y="19.7" width="13.6" height="129.46" fill="#33ffc4"/>
<rect x="302.5" y="19.7" width="13.6" height="124.70" fill="#43ffb4"/>
<rect x="302.5" y="19.7" width="13.6" height="119.94" fill="#56ffa0"/>
<rect x="302.5" y="19.7" width="13.6" height="115.19" fill="#6aff8d"/>
<rect x="302.5" y="19.7" width="13.6" height="110.43" fill="#7dff7a"/>
<rect x="302.5" y="19.7" width="13.6" height="105.67" fill="#8dff6a"/>
<rect x="302.5" y="19.7" width="13.6" height="100.91" fill="#a0ff56"/>
<rect x="302.5" y="19.7" width="13.6" height="96.16" fill="#b4ff43"/>
<rect x="302.5" y="19.7" width="13.6" height="91.40" fill="#c4ff33"/>
<rect x="302.5" y="19.7" width="13.6" height="86.64" fill="#d7ff1f"/>
<rect x="302.5" y="19.7" width="13.6" height="81.88" fill="#ebff0c"/>
<rect x="302.5" y="19.7" width="13.6" height="77.12" fill="#fbf100"/>
<rect x="302.5" y="19.7" width="13.6" height="72.37" fill="#ffdb00"/>
<rect x="302.5" y="19.7" width="13.6" height="67.61" fill="#ffc400"/>
<rect x="302.5" y="19.7" width="13.6" height="62.85" fill="#ffb200"/>
<rect x="302.5" y="19.7" width="13.6" height="58.09" fill="#ff9c00"/>
<rect x="302.5" y="19.7" width="13.6" height="53.34" fill="#ff8600"/>
<rect x="302.5" y="19.7" width="13.6" height="48.58" fill="#ff7300"/>
<rect x="302.5" y="19.7" width="13.6" height="43.82" fill="#ff5d00"/>
<rect x="302.5" y="19.7" width="13.6" height="39.06" fill="#ff4700"/>
<rect x="302.5" y="19.7" width="13.6" height="34.30" fill="#ff3000"/>
<rect x="302.5" y="19.7" width="13.6" height="29.55" fill="#ff1e00"/>
<rect x="302.5" y="19.7" width="13.6" height="24.79" fill="#f10800"/>
<rect x="302.5" y="19.7" width="13.6" height="20.03" fill="#d60000"/>
<rect x="302.5" y="19.7" width="13.6" height="15.27" fill="#bf0000"/>
<rect x="302.5" y="19.7" width="13.6" height="10.52" fill="#a40000"/>
<rect x="302.5" y="19.7" width="13.6" height="5.76" fill="#890000"/>
<path fill="#fff" fill-rule="evenodd" d="M301 18.2h16.6v219.1h-16.6z M303.5 20.7h11.6v214.1h-11.6z"/>
<rect x="303.5" y="20.7" width="11.6" height="214.1" fill="none" stroke="#222" stroke-width="0.6"/>
<g font-family="'Liberation Serif',serif" font-size="9.3">
<text x="320.2" y="238.4">100</text>
<text x="320.2" y="214.6">110</text>
<text x="320.2" y="190.8">120</text>
<text x="320.2" y="167">130</text>
<text x="320.2" y="143.2">140</text>
<text x="320.2" y="119.5">150</text>
<text x="320.2" y="95.7">160</text>
<text x="320.2" y="71.9">170</text>
<text x="320.2" y="48.1">180</text>
<text x="320.2" y="24.3">190</text>
</g>
<path d="M315.1 234.8h2.6M315.1 211h2.6M315.1 187.2h2.6M315.1 163.4h2.6M315.1 139.6h2.6M315.1 115.9h2.6M315.1 92.1h2.6M315.1 68.3h2.6M315.1 44.5h2.6M315.1 20.7h2.6" stroke="#222" stroke-width="0.6" fill="none"/>
<text transform="translate(346.2 127.8) rotate(-90)" font-family="'Liberation Sans',sans-serif" font-size="11.3" text-anchor="middle" textLength="75" lengthAdjust="spacingAndGlyphs">Temperature (K)</text>
<!-- panel b -->
<g>
<path fill="#000089" d="M423.8 17.7l237.9 0 0 220.1-237.9 0z"/>
<path fill="#0000a4" d="M423.8 17.7l237.9 0 0 220.1-237.9 0z"/>
<path fill="#0000bf" d="M423.8 17.7l237.9 0 0 220.1-237.9 0 0-49.7 6-0.2 3.7-1.1-1.2-1-2.5-0.7-6-0.2z"/>
<path fill="#0000d6" d="M423.8 17.7l237.9 0 0 220.1-237.9 0 0-47.4 6-0.1 4.5-0.6 6-1.5 2.2-1.4-1.1-1-10.1-2.8-3-0.5-4.5 0z"/>
<path fill="#0000f1" d="M423.8 17.7l237.9 0 0 220.1-237.9 0 0-45.2 9-0.2 7.5-1.3 6-2.3 2.4-2-0.9-1-2.3-1-12.7-3.6-4.5-1.1-4.5 0zM500.1 188.7l-1.4 1.1 0.1 1 1.3 1 3 0.5 1.5-0.4 1.7-1.1 0.1-1-1.8-1.3-1.5-0.3z"/>
<path fill="#0000ff" d="M423.8 17.7l237.9 0 0 165.4-4.5 0-3.6 1.7-1.2 1 0.4 1 2.9 1.3 6 0.3 0 49.4-237.9 0 0-42.9 10.5-0.1 7.5-1.1 5.9-2.2 7.3-3.7 0.9-1-1.3-1-8.3-2.9-16.5-4.9-6-0.3zM501.6 185.6l-3.3 1.2-3.7 3 0.2 1 0.9 1 2.9 2.2 3 1.1 3-0.3 3-1.5 2.7-2.5 0.1-1-0.7-1-2.1-1.7-3-1.3z"/>
<path fill="#0010ff" d="M423.8 17.7l237.9 0 0 162.3-4.5 0-1.5 0.5-17.3 7.3 11.3 2.2 7.5 2 4.5 0 0 45.8-237.9 0 0-40.7 12 0.2 7.5-0.8 23.8-8.7-8.9-3.6-28.4-8.5-6-0.3zM500.1 183.3l-9 4.8-9.4 1.7 9.4 2.3 6 4 3 1.4 3 0.4 3-0.7 7.5-4.8 3-0.9 4.7-0.7 1.6-1-7.8-1.4-7.5-4.3-3-1.1zM583.9 187.5l-9 2.2-14.9-1.1-10.4 1.2 0.5 1 5.4 0.6 17.9-0.1 9 1.4 4.5 0 7.5-0.9 9.1-2-0.9-1-6.7-0.9z"/>
<path fill="#0028ff" d="M423.8 17.7l237.9 0 0 159.3-4.5 0-9 3.3-10.4 3.2-10.1 1.3-19.9 0.4-22.4-1.2-10.5 1.4-14.9 0.2-19.5 1.5-10.5-0.6-13.4-1.8-3-0.7-6-2.9-4.5-0.9-4.5 0.8-6 2.9-3 0.9-8.9 0.4-10.5-0.7-4.5-0.8-22.4-6-13.5-4.3-6-0.4zM464 193.8l7.7-0.5 17.9 2.4 9 4.2 4.5 0.8 4.1-0.9 7.9-3.6 19.4-1.4 31.4 0.3 19.5 1.6 22.4-2.7 30-1.1 10.4 0.9 9 1.7 4.5 0 0 42.3-237.9 0 0-38.4 13.5 0.6 6-0.4z"/>
<path fill="#0040ff" d="M423.8 17.7l237.9 0 0 156.3-4.5 0-18 5.4-13.4 2.3-18 0.1-23.9-1.3-15 0.8-19.4 2.5-9 0.4-9-0.8-14.9-2.6-9-2.7-3-0.5-4.5 0.3-9 3-3 0.5-8.9 0.3-10.5-0.6-25.4-5.5-15-4.9-4.5 0zM623.2 197.8l17.5-0.4 16.5 1.6 4.5 0 0 38.8-237.9 0 0-36.2 4.5 0 10.5 1.2 4.5 0 20.9-4.3 7.5-0.5 17.9 1.8 9 3 4.5 0.7 4.5-0.7 7.5-2.3 11.9-0.7 19.5-0.5 15-0.9 23.9 2.1 22.4-2.1z"/>
<path fill="#0058ff" d="M423.8 17.7l237.9 0 0 153.3-6 0.3-17.9 4.8-12 2.4-16.5-0.1-25.4-1.4-12 0.1-16.4 3.2-13.5 1.1-9-1-26.9-5.5-6 0.3-9 2.1-7.4 0.9-7.5 0.1-9-0.6-22.4-3.8-6-1.7-10.5-3.9-4.5 0zM558.8 201.8l5.6 0.1 13.5 2 6 0.4 26.9-1.6 24-0.8 26.9 0.7 0 35.2-237.9 0 0-33.9 4.5 0 10.5 1.7 6 0.3 20.9-2.9 10.5-0.3 13.4 1.1 9.1 2 5.9 0.5 10.5-1.5 29.9-0.9z"/>
<path fill="#006cff" d="M423.8 17.7l237.9 0 0 150.5-6 0.3-29.9 6.9-10.5 0.1-43.4-2.2-3 0.5-7.4 2.6-10.5 1.8-7.5 0.5-7.5-0.6-17.2-4.3-9.7-1.5-7.5 0.2-22.4 2.5-18-0.8-17.9-2.6-15-5.5-4.5 0zM559.7 204.8l4.7 0.1 12 2.3 6 0.6 41.9-1.7 37.4-0.3 0 32-237.9 0 0-31.8 4.5 0 9 1.9 7.5 0.9 31.4-2.1 31.4 2.1 35.9-0.8z"/>
<path fill="#0084ff" d="M423.8 17.7l237.9 0 0 148.6-6 0.3-29.9 6.5-7.5 0.1-46.4-2.2-3 0.4-6 2.1-10.4 2-10.5 1-7.5-0.9-16.4-4.2-7.5-1.1-9 0-23.9 2-13.5-0.3-13.5-0.9-5.9-0.8-4.5-1.1-12-4.9-4.5 0zM557.6 206.8l5.3-0.2 13.5 2.4 6 0.4 41.9-1.3 37.4-0.3 0 30-237.9 0 0-29.9 4.5 0 10.5 1.9 6 0.5 32.9-1.6 25.4 1.6 16.5 0 25.1-0.5z"/>
<path fill="#009cff" d="M423.8 17.7l237.9 0 0 146.9-4.5 0-12 2.9-19.4 3.5-7.5 0-34.4-1.9-12-0.1-22.4 4.8-7.5 0.6-7.5-0.8-17.9-4.3-7.5-1-31.4 1.3-19.5 0.1-11.9-0.6-7.5-1.9-10.5-4.5-4.5 0zM555.1 208.8l3.4-0.7 4.4-0.1 13.5 2.3 6 0.4 41.9-1 37.4-0.3 0 28.4-237.9 0 0-28.2 4.5 0 16.5 1.9 32.9-1.1 25.4 1.2 16.5 0 25.4-0.4z"/>
<path fill="#00b0ff" d="M423.8 17.7l237.9 0 0 145.3-4.5 0-12 2.9-19.4 3-37.4-1.8-16.5-0.2-13.4 2.3-10.5 2.6-6 0.6-7.5-0.8-17.9-4.2-7.5-1-10.5 0-43.4 1.4-8.9-0.2-7.5-1.8-10.5-4.8-4.5 0zM557.3 209.8l5.6-0.3 13.5 2 6 0.4 79.3-0.8 0 26.7-237.9 0 0-26.5 22.5 1.4 29.9-0.7 29.9 0.9 31.4-0.2 9-0.3z"/>
<path fill="#00c8ff" d="M423.8 17.7l237.9 0 0 143.6-4.5 0-13.5 3.3-17.9 2.2-32.9-1.8-22.5 0-11.9 1.7-10.5 3-6 0.6-7.5-0.8-17.9-4-9-1-32.9-0.2-21 1.7-8.9 0-6-1.6-10.5-5-4.5 0zM554.9 211.8l3.6-0.8 4.4-0.1 13.5 1.9 6 0.3 79.3-0.4 0 25.1-237.9 0 0-24.7 22.5 0.8 95.7 0.1 6-0.4z"/>
<path fill="#00e0fb" d="M423.8 17.7l237.9 0 0 142-4.5 0-9 2.4-6 1.1-14.9 1.5-7.5 0-22.4-1.8-18-0.2-10.5 0.4-10.4 1.1-10.5 3.3-6 0.7-7.5-0.8-20.9-4.2-18-1.2-20.9-0.3-22.5 2.6-7.4 0.2-6-1.6-10.5-5.2-4.5 0zM556.5 212.8l6.4-0.5 18 2 80.8-0.1 0 23.6-237.9 0 0-23.1 119.7 0.6 4.5-0.4z"/>
<path fill="#0cf4eb" d="M423.8 17.7l237.9 0 0 140.3-4.5 0-13.5 3.6-16.4 1.4-7.5-0.1-19.5-1.9-23.9 0-14.9 0.6-6 1-9 3-4.5 0.4-28.4-4.8-28.4-1.7-12 0-21 3-7.4 0.2-6-1.5-10.5-5.3-4.5 0zM557.8 213.8l6.6-0.1 16.5 1.7 80.8 0 0 22.4-237.9 0 0-21.8 65.8 0.6 53.9-0.2 4.5-0.3z"/>
<path fill="#1fffd7" d="M423.8 17.7l237.9 0 0 138.7-4.5 0-13.5 3.8-14.9 1.1-9-0.1-18-2.1-41.8 0.5-4.5 0.7-9 3.1-4.5 0.4-10.5-2.2-14.9-2.1-35.9-2.4-9 0.3-19.5 3.2-7.4 0.3-6-1.6-10.5-5.3-4.5 0zM559.2 214.8l5.2 0 16.5 1.7 80.8 0 0 21.3-237.9 0 0-20.7 59.9 0.7 53.8-0.2 9-0.3z"/>
<path fill="#33ffc4" d="M423.8 17.7l237.9 0 0 137-4.5 0-10.5 3.4-7.5 1.1-17.9 0.4-19.5-2.4-40.3 0.3-6 0.5-9 3.1-3 0.6-3-0.3-10.5-2.7-50.8-3.9-7.5 0.3-18 3.3-8.9 0.6-6-1.5-10.5-5.4-4.5 0zM554.2 216.8l7.3-0.9 19.4 1.6 80.8 0 0 20.3-237.9 0 0-19.5 44.9 0.7 49.4 0 26.9-0.6z"/>
<path fill="#43ffb4" d="M423.8 17.7l237.9 0 0 135.4-4.5 0-10.5 3.6-7.5 1.1-17.9 0.2-15-2.4-4.5-0.3-19.4 0.6-22.4-0.5-6 0.7-7.5 2.8-3 0.6-3-0.4-9-3-26.9-1.2-25.4-2.4-7.5 0.4-18 3.6-8.9 0.6-6-1.5-10.5-5.3-4.5 0zM554.7 217.8l6.8-0.8 19.4 1.5 80.8 0.1 0 19.2-237.9 0 0-18.3 43.4 0.7 47.9 0.1 29.9-0.8z"/>
<path fill="#56ffa0" d="M423.8 17.7l237.9 0 0 133.7-4.5 0-10.5 3.7-7.5 1.2-17.9 0-18-2.8-22.4 0.7-22.4-1-4.5 0.5-7.5 2.9-3 0.6-3-0.4-9-3.3-25.4-0.4-26.9-2.8-7.5 0.4-19.1 4.1-7.8 0.4-6-1.5-10.5-5.3-4.5 0zM555.2 218.8l6.3-0.6 19.4 1.4 80.8 0 0 18.2-237.9 0 0-17.2 43.4 0.7 47.9 0.1 29.9-0.9z"/>
<path fill="#6aff8d" d="M423.8 17.7l237.9 0 0 132.1-4.5 0-10.5 3.6-7.5 1.2-19.4-0.1-16.5-2.6-22.4 0.5-22.4-1.8-4.5 0.5-7.5 3.1-3 0.6-3-0.4-6-2.6-3-0.8-25.4 0.3-20.9-2.7-7.5-0.5-7.5 0.7-18 4-7.4 0.4-6-1.5-10.5-5.1-4.5 0zM555.7 219.8l7.2-0.5 19.5 1.3 79.3 0 0 17.2-237.9 0 0-16.2 44.9 0.7 49.4 0 26.9-0.8z"/>
<path fill="#7dff7a" d="M423.8 17.7l237.9 0 0 130.4-4.5 0-12 3.9-7.4 1-18-0.1-18-2.5-22.4 0.1-20.9-2.5-4.5 0.4-7.5 3.2-3 0.7-3-0.4-6-2.6-3-0.8-23.9 1-7.5-0.6-16.4-2.5-7.5-0.3-7.5 0.9-16.5 3.7-5.9 0.5-3-0.3-4.5-1.2-10.5-5-4.5 0zM556.1 220.8l6.8-0.4 16.5 1.2 22.4 0.3 59.9-0.3 0 16.2-237.9 0 0-15.1 47.9 0.5 50.9-0.1 22.4-0.5z"/>
<path fill="#8dff6a" d="M423.8 17.7l237.9 0 0 128.8-4.5 0-10.5 3.3-6 1.2-16.4 0.4-9-0.6-13.5-1.9-22.4-0.3-20.9-3.3-4.5 0.5-7.5 3.3-3 0.7-3-0.4-6-2.6-3-0.8-23.9 1.7-7.5-0.7-16.4-2.6-7.5-0.4-7.5 0.9-16.5 3.7-5.9 0.5-3-0.2-4.5-1.2-10.5-4.9-4.5 0zM556.5 221.8l6.4-0.4 16.5 1.2 31.4 0.5 50.9-0.4 0 15.1-237.9 0 0-14.1 107.7 0.2 15-0.3z"/>
<path fill="#a0ff56" d="M423.8 17.7l237.9 0 0 127.1-4.5 0-10.5 3.2-6 1.2-5.9 0.5-9 0-12-0.6-12-1.6-22.4-0.8-15-3.3-5.9-0.8-4.5 0.5-7.5 3.5-3 0.7-3-0.4-6-2.6-3-0.8-4.5 0.1-13.4 1.9-6 0.3-7.5-0.7-16.4-2.8-7.5-0.4-7.5 0.9-16.5 3.7-5.9 0.5-3-0.2-4.5-1.1-10.5-4.8-4.5 0zM557 222.8l5.9-0.3 18 1.2 32.9 0.5 47.9-0.5 0 14.1-237.9 0 0-13 119.7-0.1 4.5-0.2z"/>
<path fill="#b4ff43" d="M423.8 17.7l237.9 0 0 125.5-4.5 0-10.5 3.1-7.5 1.4-13.4 0.3-12-0.5-12-1.6-20.9-1-6-1.1-11.3-3-5.1-0.8-4.5 0.5-7.5 3.5-3 0.8-3-0.4-6-2.6-3-0.8-4.5 0.1-13.4 2.4-6 0.4-7.5-0.7-16.4-3-6-0.5-7.5 0.7-15 3.4-8.9 1-3-0.2-4.5-1.2-10.5-4.5-4.5 0zM444.8 48.8l-1.5 1-1.5 2.8-0.1 5.1 3.1 6.4 1.5 1.4 1.4 0.3 1.5-0.9 0.9-2.2-0.3-9-0.6-2.2-1.5-2-1.4-0.7zM557.9 223.8l5-0.2 18 1.1 32.9 0.6 47.9-0.7 0 13.2-237.9 0 0-12.1 119.7 0 4.5-0.2z"/>
<path fill="#c4ff33" d="M423.8 17.7l237.9 0 0 123.8-4.5 0-10.5 3.1-7.5 1.3-14.9 0.4-10.5-0.6-12-1.6-20.9-1.1-4.5-0.9-12-3.6-5.9-0.8-4.5 0.4-7.5 3.1-3 0.7-3-0.4-9-3-4.5 0.1-13.4 2.6-6 0.5-7.5-0.8-16.4-3.2-6-0.5-7.5 0.5-16.5 3.4-7.4 0.7-3-0.2-4.5-1.2-10.5-4.6-4.5 0zM446.3 43.5l-3 0.9-3 3.1-1.4 3.2-0.5 4 1.1 5 3 6 2.3 2.6 2.9 1.1 3-0.9 1.8-1.8 1-2 0.5-3-0.1-8-0.7-4-1.4-3-2.6-2.4zM552.4 225.8l9.1-1 19.4 0.9 31.4 0.5 49.4-0.7 0 12.3-237.9 0 0-11.2 119.7 0z"/>
<path fill="#d7ff1f" d="M423.8 17.7l237.9 0 0 122.2-4.5 0-9 2.8-7.5 1.4-5.9 0.5-10.5 0-10.5-0.8-12-1.6-20.9-1.1-4.5-1-10.5-3.7-5.9-0.9-6 0.3-7.5 2.5-3 0.6-3-0.3-7.5-2.5-3-0.2-4.5 0.4-11.9 2.6-6 0.5-7.5-0.8-16.4-3.5-7.5-0.6-7.5 0.7-16.5 3-5.9 0.4-3-0.2-4.5-1.2-10.5-4.7-4.5 0zM444.8 38.5l-3 1.8-3.4 4.4-2.1 5-0.3 5 1.7 6 4.1 7.9 3 2.9 1.5 0.7 2.9 0.1 3-1.2 1.5-1.2 2.4-3.2 1.3-6 0-9-1.7-6-2.6-4-3.9-2.8-2.9-0.6zM552.8 226.8l8.7-0.7 50.8 0.9 49.4-0.6 0 11.4-237.9 0 0-10.3 119.7 0z"/>
<path fill="#ebff0c" d="M423.8 17.7l237.9 0 0 120.5-4.5 0-9 2.9-6 1.1-7.4 0.6-10.5 0-22.5-2.5-20.9-1.2-4.5-1.1-10.5-4-4.4-0.8-7.5 0.3-10.5 2.4-3-0.3-7.5-2-4.5-0.2-14.9 3.1-6 0.6-7.5-0.9-16.4-3.8-7.5-0.5-7.5 0.6-16.5 2.6-5.9 0.4-3-0.3-4.5-1.2-10.5-4.8-4.5 0zM444.8 31.4l-1.5 0.5-1.5 1.1-4.5 7.1-3.2 7.6-0.7 3 0 3 1.6 6 5.4 11 2.9 3.5 1.5 0.9 2.9 0.4 3-0.5 3-1.5 3.5-2.8 1.6-2 1.6-6 0.7-9-1.7-8-2.1-5-6.6-6.4-3-2zM553.5 227.8l8-0.4 59.8 0.4 40.4-0.6 0 10.6-237.9 0 0-9.5 119.7 0z"/>
<path fill="#fbf100" d="M423.8 17.7l237.9 0 0 118.9-4.5 0-7.5 2.5-6 1.3-8.9 0.7-10.5 0-21-2.6-22.4-1.3-4.5-1.2-9-4-4.5-1-7.4 0.1-12 1.8-3-0.2-7.5-1.7-4.5-0.1-14.9 3.3-6 0.6-6-0.7-16.4-4-7.5-0.9-7.5 0.4-18 2.4-7.4 0.3-6-1.5-10.5-4.9-4.5 0zM441.8 22.2l-1.5 0.5-1.5 2.5-7.5 21.5-0.8 6 1.4 6 4.6 10 4.9 10 1.9 1.1 8.9-1.9 9-6.2 1.5-2.8 1.8-14.2-2.6-13-1.5-3-14.1-14.9-3-1.5zM555.3 228.8l106.4-0.7 0 9.7-237.9 0 0-8.7 119.7 0.1z"/>
<path fill="#ffdb00" d="M423.8 17.7l12 0 0 3-6 18.2-1.5 3.1-4.5 0zM449 17.7l212.7 0 0 116.9-4.5 0-9 3-4.5 0.9-19.4 0.6-21-2.7-22.4-1.4-4.5-1.3-9-4.3-4.5-1-8.9 0.4-10.5 1.1-10.5-1.6-4.5-0.1-14.9 3.5-6 0.6-6-0.7-16.4-4.2-6-0.9-7.5 0.1-18 2.2-8.9 0.3-6-1.5-10.5-5-4.5 0 0-62.4 4.5 0 2.6 4.5 7.1 16 1.4 2 2.4 1.3 10.4-2.2 3-1.3 9-6.5 2-3.3 1.8-13 1.1-4-0.1-1-1.8-3-0.3-4-1.7-6-2.4-4-13.1-14-0.7-1zM580.3 229.8l81.4-0.7 0 8.7-237.9 0 0-7.9z"/>
<path fill="#ffc400" d="M423.8 17.7l7.6 0-0.2 4-2.9 7.4-4.5 0zM454.1 17.7l207.6 0 0 114-4.5 0-7.5 2.6-6 1.3-17.9 0.6-22.5-2.9-22.4-1.2-4.5-1.3-9-4.3-4.5-1.2-8.9 0.3-10.5 1-13.5-1.7-5.5 0.8-12.4 3.2-6 0.2-6-0.9-14.9-4-6-1-7.5 0.1-19.5 2.2-7.4 0.2-6-1.5-10.5-5-4.5 0 0-50.3 4.5 0 3.2 4.8 4.3 10.1 3 2.9 3 0.7 10.4-2 4.5-1.6 9-6.4 2.3-2.7 1-2 2.6-19-0.7-2-1.4-2 0.3-4-1.7-7-2.4-4.8-11-12.2-0.6-1zM624.3 52.5l-1.5 1.4-1.2 2.8-0.4 2 0.3 3 1.3 3 0.9 1 2.1 1.2 1.5 0 1.5-0.6 1.5-1.6 1-3-0.2-3-0.8-2.4-1.8-2.6-1.2-1-1.5-0.6zM423.8 230.8l101.7 0.2 136.2-0.8 0 7.6-237.9 0z"/>
<path fill="#ffb200" d="M459.6 17.7l202.1 0 0 111.5-4.5 0-7.5 2.9-6 1.4-7.4 0.6-7.5 0-7.5-0.8-15-2.8-16.4 0.2-9-0.7-6-1.9-9-4.4-4.4-0.9-9-0.1-9 0.5-10.5-1.2-3 0-4.5 0.7-13.4 3.6-6 0.4-7.5-1.3-13.4-4.4-6-1.2-7.5 0.2-19.5 2.3-7.4 0.1-6-1.5-10.5-4.8-4.5 0 0-42.5 4.5 0 1.5 1.9 1.8 6.2 2.7 4.6 3 2.5 1.5 0.6 3 0.4 11.9-1.5 6-1.9 4.1-2.7 3.4-3.1 3.4-5.9 0.9-5 1.4-15-0.2-2-1.9-3 0.5-4-0.2-2-2.4-8.8-3-5.5-6.1-8.7zM621.3 41.4l-2.3 1.3-2.2 2.4-3 5.9-1.3 7.7 0.6 9 2.2 6.6 4.5 6.4 4.5 3.1 3 0.6 3-0.2 3-1.1 3-2.1 1.9-2.3 1.8-3 1-3 0.5-4-1-8-1.1-4-1.8-4-5.8-7.7-4.5-3.3-3-0.8zM423.8 231.8l0-0.4 4.5 0 94.3 0.7 139.1-0.7 0 6.4-237.9 0z"/>
<path fill="#ff9c00" d="M464.9 17.7l196.8 0 0 43.3-4.5 0-9.8-9.3-8.2-6.4-11.9-10.8-4.5-2.3-4.5-0.4-3 1.2-2.1 1.7-6.5 11-1.5 6-0.9 16 0.4 3 1.2 4 7.9 14.8 4.5 5.2 4.5 2.4 4.5 0.5 4.5-0.1 4.5-0.6 4.4-1.5 3.1-1.7 3.8-3 9.6-10.5 4.5 0 0 46.8-4.5 0-7.5 3.2-5.6 1.6-6.3 0.8-6 0-10.5-1.6-12-4.1-3 0.1-14.9 2.1-10.5-0.7-6-1.8-10.5-5.2-20.9-3-6-0.2-7.5 0.9-16.4 4.7-7.5 0.9-4.5-0.5-4.7-1.5-17.7-8.4-4.5 0-15 3.4-10.5 0.6-7.4-1.1-12-4.4-6-0.3 0-30.7 4.5 0 3.1 4.9 2.9 2.9 3 1.7 3 0.6 14.9-0.6 6-1.1 3.6-1.5 2.4-1.7 1.8-2.3 1.6-3 2.3-8 1.2-20-2.3-5 0.9-4-1.9-9-2.1-6.3-3.8-8.7zM423.8 232.8l0-0.7 59.9 1 13.4-0.4 24 0.4 40.4-0.4 40.3 0.3 38.9-0.6 21 0.2 0 5.2-237.9 0z"/>
<path fill="#ff8600" d="M470.1 17.7l137.9 0 0 3-6.2 4.2-5.2 7.8-2.2 2.5-3 1.7-6 0.9-1.7 0.9-1.4 3-1.6 14 1.7 7.2 1.5 4.2 1.5 2.4 10.5 6.8 7.4 7.9 3 3.9 2.4 5.6 2.9 9 0.3 4-1.1 6 0.7 2-5.2 2.4-10.4 8.6-3 1.3-4.5 0.5-7.5-0.7-4.5-1.1-16.4-9.1-12-4.8-4.5-1.1-4.5 0-6 1.4-15.3 6.6-8.6 3-4.5 0.6-3-0.4-2.4-1.2-8.2-7-7.3-7.1-6-2.9-3 0.5-7.5 3.9-4.5 1.8-7.5 1.2-11.9-0.9-4.5-1.2-8.7-3.3-6.3-0.2 0-17.4 4.5 0 3 1.8 3 3 3 1.4 1.5 0.3 7.5-0.8 8.9 1.6 15 0.6 1.5-0.4 1.3-1.9 1.4-7 1.3-32-0.4-3-2-3 1-4-4.2-24zM504.6 34.6l-1.5 1.9-0.9 2.2-0.6 6 1.5 6.8 1.5 4.3 1.5 1.9 1.5-0.4 2.1-3.6 0.4-3-0.3-7-0.7-5-1.5-3.2-1.5-1.3zM540.5 34.3l-1.5 0.7-0.6 2.7-0.2 2 0.8 2.8 1.5 0 0.7-1.8 0.2-2zM625.2 17.7l36.5 0 0 19.2-4.5 0-6 2.9-4.5 1.4-3-0.1-3-1.1-2.7-2.3-4.4-5-4.8-8.7-3.6-3.3zM646.4 105.7l4.8-0.7 6 1 4.5 0 0 16.4-4.5 0-4.9 4.3-3.8 2.1-3.1 1-6.2 1.1-4.4 0.3-4.5-0.4-4.5-1.2-1.9-0.8-2.4-2.1-6.2-8.5-2.6-2.5-0.2-1 5.1-4 8.7-4 4-0.6 8.9 1.4zM423.8 233.8l0-0.9 37.4 0.5 22.5 0.9 13.4-0.6 22.5 0.6 41.9-0.6 38.8 0.6 44.9-0.8 16.5 0.4 0 3.9-237.9 0z"/>
<path fill="#ff7300" d="M476 17.7l22.9 0 0 3-4 24 0 3 2.8 18 4.7 9 0.7 0.8 1.5 0.4 2.2-1.2 5.5-6 5.2-12 0.8-3-5.9-32-0.1-4 17.6 0 1.2 29 5.9 19 2.7 4 2.3 2.5 1.5 0.8 1.7-1.3 2.1-10 3.5-44 44.8 0 0 3-3.3 6-1.8 2-2.1 0.8-1.5-0.5-3-2.4-1.5-0.5-1.5 0.5-4.6 7.1-1.4 4-1.6 18 4.1 17 0.9 2 1.2 1 10.4 4.8 3 1.9 7.4 7.3 1.9 3 2.3 8 0.2 3-0.9 3-4.3 8-9.6 8.4-3 0.4-9-1.3-3.7-1.5-8.3-7.4-3-1.9-13.4-5.4-7.5-1.6-3 0.3-9 2-11.9 5.7-12 4.4-3-0.1-1.3-1-9.6-9-10-11.8-1.1-2.2-1.6-17 0-24-2.3-13zM635.6 17.7l26.1 0 0 10.5-4.5 0-10.5 5.9-1.5 0.6-1.9 0-1.6-1-3.9-5.4-2.2-7.6zM430.6 92.7l0.7-0.5 0.9 2.5-0.3 2-0.6 1-1.5-0.6-1.5 1.6-4.5 0 0-4.2 4.5 0 1.5 1.1zM445.4 104.7l0.9-0.9 1.2 0.9-1.2 1.2zM630 112.7l1.8 0.2 4.5 1.6 2.9 0.3 3-0.3 7.5-2.3 3 1 0.9 1.5-0.1 1-2.5 5-1.6 2-2.6 2-7.6 2.8-4.4 0.4-7.3-3.2-1.9-3-3-3 0-2 1.5-2zM423.8 233.8l17.5 0 25.7 1 0 3-43.2 0z"/>
<path fill="#ff5d00" d="M484.3 17.7l5.7 0-0.5 21-1.4 4.1-1.5 1.1-1.4-1-1.4-4.2zM558.3 17.7l17.8 0 0 3-3.1 5-3.5 8-3.1 18 0.2 6 6.1 18 1.5 3 2.2 2.1 12 5.9 5.5 5 2.4 3 1.4 4 0.7 4-0.7 3-2.1 4-3.2 4-4 3-3 0.6-6-0.6-3.7-2-8.3-7.2-4.5-3.2-13.4-5.3-7.5-2.1-3 0.2-10.5 2.7-14.9 6.6-6 2.1-3-0.3-3-1.8-6-4.8-4.4-5.9-3.1-5-1-13 1-7.3 1.5-0.3 6.6 8.6 2.1 2 3.3 1.6 4.5 0.1 4.3-1.7 3.9-3 4.6-5 3.7-6.3 1.4-1.8 1.5-0.6 1.5 0.9 4.1 6.8 6.4 9 3 1.8 1.5 0.1 3-1.4 3-3.5 1.4-3 5.1-16 1-8-0.1-16 2.9-14zM644.8 17.7l7.7 0 0 3-2.8 1.7-3 0.3-1.4-1-0.5-1zM522.5 38.7l1.5-0.3 0.4 1.3-0.4 1.4-1.4-0.7zM423.8 234.8l14.2 0 0 3-14.2 0z"/>
<path fill="#ff4700" d="M558.7 67.7l2.8-0.6 1.4 0.5 2.3 2.1 2.1 4 2.7 9 1.9 3 3 2.1 10.5 4.2 3 2.2 2.1 2.5 1.7 4-0.2 4-1.9 4-3.2 3.2-1.5 0.7-3 0.4-3-0.8-1.5-0.8-3-3-7.5-10.5-3-2.4-6.8-3.8-2.8-3-1-2-0.7-3 0.3-6 2.1-6.4 1.5-2.2zM501.7 91.7l1.4-0.5 3-0.2 3 1 1.5 1.6 0.4 1.1-0.9 3-2.4 2-1.6 0.5-2.9-0.5-1.5-1-1.3-2-0.4-2 0.7-2z"/>
<path fill="#ff3000" d="M579.4 99.7l1.5-0.7 1.5 0.1 1.5 0.7 1.5 1.6 0.5 1.3-0.1 2-0.4 1.1-1.5 1.4-1.5 0.3-1.5-0.5-1.5-1.4-0.9-2.9 0.3-2z"/>
<path d="M661.7 183.1l-4.5 0-3.6 1.7-1.2 1 0.4 1 2.9 1.3 1.5 0.3 4.5 0M501.6 185.6l-1.5 0.4-1.8 0.8-2.9 2-0.8 1 0.2 1 0.9 1 2.9 2.2 3 1.1 1.5 0 1.5-0.3 3-1.5 2.7-2.5 0.1-1-0.7-1-2.1-1.7-3-1.3-1.5-0.3-1.5 0.1M423.8 194.9l10.5-0.1 4.5-0.5 3-0.6 3-0.9 2.9-1.3 7.3-3.7 0.8-1.1M441.8 181.5l-12-3.5-1.5-0.3-4.5 0M661.7 168.2l-4.5 0-1.5 0.3-25.4 6.1-6 1-10.5-0.2-32.9-1.9-7.5-0.2-3.4 0.3M555.6 177.5l-9.1 1.1-4.5 0.1-3-0.2-6-1-16.4-4.2-3-0.6-4.5-0.4-7.5 0.2-13.5 1.8-7.4 0.7-7.5 0-9-0.5-10.5-1.2-8.9-1.4-6-1.7-10.5-4.1-4.5 0M423.8 206l4.5 0 10.5 2.2 4.5 0.5 3 0.1 7.4-0.4 15-1.4 7.5-0.3 9 0.4 19.4 1.7 34.4-0.6 6.9-0.4 9.6-2.4 4.5-0.6 5.9 0.4 7.9 1.6 7.1 0.9 12-0.2 25.4-1.2M633.3 206l28.4-0.2M661.7 159.7l-4.5 0-7.5 2.1-4.5 1-13.4 1.6M616.8 164.4l-10.5-1.1-6-0.3-17.9-0.3-10.5 0.2-11.9 1-3.9 0.9-9.4 3-4.7 0.4-7.5-0.8-20.9-4.2-6-0.6-12-0.6-20.9-0.3-6 0.5-16.5 2.1-4.5 0.3-2.9-0.1-3-0.6-3-1-10.5-5.2-4.5 0M423.8 214.7l17.9 0.3M456.8 215.1l50.8 0.3 37.4-0.2 3.7-0.4 8.3-2.1 4.5-0.5 4.4 0.4 10.5 1.4 4.5 0.3 80.8-0.1M661.7 151.4l-4.5 0-7.5 2.8-4.5 1.3-3 0.6-4.4 0.2-13.5 0.1-4.5-0.2-13.5-2.4-3-0.3-4.4 0-18 0.7-22.4-1-3 0.2-1.5 0.3-7.5 2.9-3 0.6-3-0.4-6-2.5-3-0.8-13.4-0.2M503.1 152.9l-17.9-2.2-9-0.4-3 0.2-4.5 0.7-16.5 3.6-4.5 0.5-2.9-0.1-3-0.5-3-1-10.5-5.3-4.5 0M423.8 220.6l35.9 0.6 37.4 0.2M512.1 221.4l32.9-0.9 4.5-0.6 7.5-1.4 4.5-0.3 19.4 1.4 80.8 0M444.8 48.8l-1.5 1-1.5 2.8-0.4 3.1 0.6 3 1.3 2.9 1.5 2.5 1.5 1.4 1.7 0.2 1.2-0.8 0.8-1.7M447.1 49.2l-0.8-0.4-1.5 0M661.7 143.2l-4.5 0-10.5 3.1-7.5 1.4-5.9 0.4-12-0.2M606.4 146.4l-4.6-0.5-16.4-0.7-6-0.5-4.5-0.9-12-3.2-2.9-0.5-3-0.2-3 0.6-7.5 3.5-3 0.8-3-0.4-6-2.6-3-0.8-4.5 0.1-13.4 2.4-6 0.4-7.5-0.7-16.4-3-6-0.5-3 0.1-4.5 0.6-18 3.9-4.1 0.5-3.3 0-3-0.5-3-0.9-10.5-4.5-4.5 0M423.8 225.7l119.7 0 4.5-0.2 9-1.6 4.5-0.3 19.4 1.1 37.4 0.6M633.3 225.3l28.4-0.7M435.8 17.7l0 3-6 18.2-1.5 3.1-4.5 0M423.8 60.2l4.5 0 1.5 2.3 1.1 2.2 7.1 16 1.4 2 0.9 0.8 1.5 0.5 1.5-0.1 4.2-1.2 4.7-0.9 2.5-1.1 2-1.2 6.6-4.8 2-2 0.9-2 0.4-3.5M468.9 52.4l-1.3-1.7-0.4-1-0.3-4-1.7-6-0.9-2-2.4-3-12.2-13-0.7-1 0-3M661.7 134.6l-4.5 0-9 3-4.5 0.9-10.4 0.6-9 0-4.5-0.3-16.5-2.4-16.4-0.8-6-0.6-1.5-0.3-3-1-9-4.3-3-0.8-2.9-0.2M546.5 129.7l-4.5 0.2-9-1.6-3-0.2-6 0.9-10.6 2.8-5.8 0.5-6-0.7-16.4-4.2-6-0.9-7.5 0.1-18 2.2-6 0.3-2.9 0-3-0.6-3-0.9-10.5-5-4.5 0M423.8 229.9l100.2 0.2 34.4-0.3M573.5 229.8l35.8-0.1 52.4-0.6M498.9 17.7l0 3-4.1 25 0.1 2 2.5 17 1.1 3 2.5 4 1.4 3 0.7 0.8 1.5 0.4 1.5-0.6 1.7-1.6 4.5-5 1-2 4.7-11.6M515.9 40.3l-3.5-18.6-0.1-4M529.9 17.7l1 28 5 17 1.1 3 1.9 3 3.1 3.5 1.5 0.8 0.7-0.3 0.8-0.5 0.2-0.5 0.7-4 1.2-5 0.4-3.5M548.6 44.2l2.2-22.5 0-4M595.6 17.7l0 3-0.4 1-2.9 5-0.9 1.2-1.5 1.2-1.5 0.4-1.5-0.5-3-2.4-1.5-0.5-1.5 0.5-1.6 2.1-3.6 6-0.6 2-1.9 18 0.6 4 3 11 0.6 3 0.9 2 1.2 1 4.7 2 7.2 3.6 1.8 1.4 7.1 7 1.9 3 2.3 8 0.2 3-0.5 2-3.9 8-1.4 1.7-6 5.5-3 2.2-1.5 0.4-1.5 0-4.5-0.9-4.5-0.4-1.5-0.3-1.5-0.7-1.5-1-7-6.5-3.5-2.3-13.4-5.4-4.5-1.1-3-0.5-3 0.3-7.5 1.5-3 1.1-8.9 4.5-3 1.2-10.5 3.8-1.5 0.2-1.5-0.3-1.5-1.1-2.7-2.9-6.7-6-10-11.8-0.7-1.2-0.5-2-1.5-15-0.1-15.5M478.5 46.3l-1.2-6.6-0.4-4-0.9-18M661.7 28.2l-4.5 0-1.5 0.7-4 2.5M639.3 30.6l-1.4-1.9-0.7-2-1.6-6 0-3M423.8 94.5l4.5 0 1.5 1.1 0.3-1.9 0.5-1 0.7-0.5 0.8 1.5 0.1 1-0.3 2-0.6 1-1.5-0.6-0.4 0.6-1.1 1-4.5 0M445.4 104.7l0.9-0.9 1.2 0.9-0.8 1-0.4 0.2-0.9-1.2M630 112.7l1.8 0.2 4.5 1.6 2.9 0.3 3-0.3 4.8-1.8 2.7-0.5 1.5 0.2 1.5 0.8 0.5 0.5 0.4 1-0.1 1-0.7 2-1.6 2.8-1.8 2.2-2.6 2-3.1 1.4-5.9 1.8-1.5 0.1-2.3-0.3M622.6 118.8l-0.1-1.1 0.1-1 0.5-1 1-1 5.9-2M423.8 233.6l11.9 0.1M450.8 234.1l16.2 0.7 0 3" fill="none" stroke="#000" stroke-width="1.3" stroke-linejoin="round"/>
</g>
<path fill="#fff" fill-rule="evenodd" d="M422.3 16.2h240.9v223.1h-240.9z M428.3 20.7h228.9v214.1h-228.9z"/>
<clipPath id="acb"><rect x="421.1" y="20.7" width="243.4" height="214.1"/></clipPath>
<g clip-path="url(#acb)">
<g font-family="'Liberation Sans',sans-serif" font-size="8.4" text-anchor="middle" fill="#000" font-style="italic">
<text transform="translate(448.8 184.1) rotate(20.3)" y="2.9" textLength="11.9" lengthAdjust="spacingAndGlyphs">110</text>
<text transform="translate(562.8 175.5) rotate(-15.2)" y="2.9" textLength="11.9" lengthAdjust="spacingAndGlyphs">120</text>
<text transform="translate(625.8 206.2) rotate(-1.5)" y="2.9" textLength="11.9" lengthAdjust="spacingAndGlyphs">120</text>
<text transform="translate(624.3 164.4) rotate(0)" y="2.9" textLength="11.9" lengthAdjust="spacingAndGlyphs">130</text>
<text transform="translate(449.2 215.1) rotate(0.5)" y="2.9" textLength="11.9" lengthAdjust="spacingAndGlyphs">130</text>
<text transform="translate(510.6 153.1) rotate(1.5)" y="2.9" textLength="11.9" lengthAdjust="spacingAndGlyphs">140</text>
<text transform="translate(504.6 221.4) rotate(-0.2)" y="2.9" textLength="11.9" lengthAdjust="spacingAndGlyphs">140</text>
<text transform="translate(448.6 56.2) rotate(78.4)" y="2.9" textLength="11.9" lengthAdjust="spacingAndGlyphs">150</text>
<text transform="translate(613.9 147.2) rotate(5.6)" y="2.9" textLength="11.9" lengthAdjust="spacingAndGlyphs">150</text>
<text transform="translate(625.8 225.3) rotate(-0.1)" y="2.9" textLength="11.9" lengthAdjust="spacingAndGlyphs">150</text>
<text transform="translate(467.7 59.8) rotate(-81.3)" y="2.9" textLength="11.9" lengthAdjust="spacingAndGlyphs">160</text>
<text transform="translate(554 129) rotate(-5)" y="2.9" textLength="11.9" lengthAdjust="spacingAndGlyphs">160</text>
<text transform="translate(565.9 229.8) rotate(-0.1)" y="2.9" textLength="11.9" lengthAdjust="spacingAndGlyphs">160</text>
<text transform="translate(478.9 53.8) rotate(86.7)" y="2.9" textLength="11.9" lengthAdjust="spacingAndGlyphs">170</text>
<text transform="translate(516.9 47.7) rotate(81.8)" y="2.9" textLength="11.9" lengthAdjust="spacingAndGlyphs">170</text>
<text transform="translate(548.1 51.7) rotate(-85.7)" y="2.9" textLength="11.9" lengthAdjust="spacingAndGlyphs">170</text>
<text transform="translate(645.5 31) rotate(3.7)" y="2.9" textLength="11.9" lengthAdjust="spacingAndGlyphs">170</text>
<text transform="translate(628.3 123.2) rotate(38.1)" y="2.9" textLength="11.9" lengthAdjust="spacingAndGlyphs">170</text>
<text transform="translate(443.3 233.9) rotate(1.4)" y="2.9" textLength="11.9" lengthAdjust="spacingAndGlyphs">170</text>
</g>
</g>
<rect x="421.1" y="20.7" width="243.4" height="214.1" fill="none" stroke="#4a4a4a" stroke-width="0.55"/>
<path d="M421.1 234.8h-3.2M421.1 187.2h-3.2M421.1 139.6h-3.2M421.1 92h-3.2M421.1 44.4h-3.2M421.1 234.8v3.2M451.5 234.8v3.2M481.8 234.8v3.2M512.2 234.8v3.2M542.5 234.8v3.2M572.8 234.8v3.2M603.2 234.8v3.2M633.5 234.8v3.2M663.9 234.8v3.2" stroke="#222" stroke-width="0.6" fill="none"/>
<path d="M421.1 25.5h-1.8M421.1 30.1h-1.8M421.1 33.8h-1.8M421.1 37h-1.8M421.1 39.8h-1.8M421.1 42.2h-1.8M421.1 58.7h-1.8M421.1 67.1h-1.8M421.1 73.1h-1.8M421.1 77.7h-1.8M421.1 81.4h-1.8M421.1 84.6h-1.8M421.1 87.4h-1.8M421.1 89.8h-1.8M421.1 106.3h-1.8M421.1 114.7h-1.8M421.1 120.7h-1.8M421.1 125.3h-1.8M421.1 129h-1.8M421.1 132.2h-1.8M421.1 135h-1.8M421.1 137.4h-1.8M421.1 153.9h-1.8M421.1 162.3h-1.8M421.1 168.3h-1.8M421.1 172.9h-1.8M421.1 176.6h-1.8M421.1 179.8h-1.8M421.1 182.6h-1.8M421.1 185h-1.8M421.1 201.5h-1.8M421.1 209.9h-1.8M421.1 215.9h-1.8M421.1 220.5h-1.8M421.1 224.2h-1.8M421.1 227.4h-1.8M421.1 230.2h-1.8M421.1 232.6h-1.8" stroke="#333" stroke-width="0.45" fill="none"/>
<text x="415.9" y="237.9" font-family="'Liberation Sans',sans-serif" font-size="8.5" text-anchor="end">1000</text>
<text x="415.9" y="190.3" font-family="'Liberation Sans',sans-serif" font-size="8.5" text-anchor="end">100</text>
<text x="415.9" y="142.7" font-family="'Liberation Sans',sans-serif" font-size="8.5" text-anchor="end">10</text>
<text x="415.9" y="95.1" font-family="'Liberation Sans',sans-serif" font-size="8.5" text-anchor="end">1</text>
<text x="415.9" y="47.5" font-family="'Liberation Sans',sans-serif" font-size="8.5" text-anchor="end">0.1</text>
<g font-family="'Liberation Serif',serif" font-size="9.3" text-anchor="middle">
<text x="420.5" y="247.1">−80</text>
<text x="450.9" y="247.1">−60</text>
<text x="481.2" y="247.1">−40</text>
<text x="511.6" y="247.1">−20</text>
<text x="542.5" y="247.1">0</text>
<text x="572.8" y="247.1">20</text>
<text x="603.2" y="247.1">40</text>
<text x="633.5" y="247.1">60</text>
<text x="663.9" y="247.1">80</text>
</g>
<text x="542.8" y="259.7" font-family="'Liberation Sans',sans-serif" font-size="11.3" text-anchor="middle" textLength="36" lengthAdjust="spacingAndGlyphs">Latitude</text>
<text transform="translate(391.5 127.8) rotate(-90)" font-family="'Liberation Sans',sans-serif" font-size="11.3" text-anchor="middle" textLength="71.5" lengthAdjust="spacingAndGlyphs">Pressure (mbar)</text>
<text x="542.8" y="16.3" font-family="'Liberation Sans',sans-serif" font-size="11.3" text-anchor="middle" textLength="31.7" lengthAdjust="spacingAndGlyphs">TEXES</text>
<text x="554.5" y="289.7" font-family="'Liberation Serif',serif" font-size="12.6" text-anchor="middle">(b)</text>
<rect x="678.6" y="19.7" width="13.6" height="215.10" fill="#000089"/>
<rect x="678.6" y="19.7" width="13.6" height="210.34" fill="#0000a4"/>
<rect x="678.6" y="19.7" width="13.6" height="205.58" fill="#0000bf"/>
<rect x="678.6" y="19.7" width="13.6" height="200.83" fill="#0000d6"/>
<rect x="678.6" y="19.7" width="13.6" height="196.07" fill="#0000f1"/>
<rect x="678.6" y="19.7" width="13.6" height="191.31" fill="#0000ff"/>
<rect x="678.6" y="19.7" width="13.6" height="186.55" fill="#0010ff"/>
<rect x="678.6" y="19.7" width="13.6" height="181.80" fill="#0028ff"/>
<rect x="678.6" y="19.7" width="13.6" height="177.04" fill="#0040ff"/>
<rect x="678.6" y="19.7" width="13.6" height="172.28" fill="#0058ff"/>
<rect x="678.6" y="19.7" width="13.6" height="167.52" fill="#006cff"/>
<rect x="678.6" y="19.7" width="13.6" height="162.76" fill="#0084ff"/>
<rect x="678.6" y="19.7" width="13.6" height="158.01" fill="#009cff"/>
<rect x="678.6" y="19.7" width="13.6" height="153.25" fill="#00b0ff"/>
<rect x="678.6" y="19.7" width="13.6" height="148.49" fill="#00c8ff"/>
<rect x="678.6" y="19.7" width="13.6" height="143.73" fill="#00e0fb"/>
<rect x="678.6" y="19.7" width="13.6" height="138.98" fill="#0cf4eb"/>
<rect x="678.6" y="19.7" width="13.6" height="134.22" fill="#1fffd7"/>
<rect x="678.6" y="19.7" width="13.6" height="129.46" fill="#33ffc4"/>
<rect x="678.6" y="19.7" width="13.6" height="124.70" fill="#43ffb4"/>
<rect x="678.6" y="19.7" width="13.6" height="119.94" fill="#56ffa0"/>
<rect x="678.6" y="19.7" width="13.6" height="115.19" fill="#6aff8d"/>
<rect x="678.6" y="19.7" width="13.6" height="110.43" fill="#7dff7a"/>
<rect x="678.6" y="19.7" width="13.6" height="105.67" fill="#8dff6a"/>
<rect x="678.6" y="19.7" width="13.6" height="100.91" fill="#a0ff56"/>
<rect x="678.6" y="19.7" width="13.6" height="96.16" fill="#b4ff43"/>
<rect x="678.6" y="19.7" width="13.6" height="91.40" fill="#c4ff33"/>
<rect x="678.6" y="19.7" width="13.6" height="86.64" fill="#d7ff1f"/>
<rect x="678.6" y="19.7" width="13.6" height="81.88" fill="#ebff0c"/>
<rect x="678.6" y="19.7" width="13.6" height="77.12" fill="#fbf100"/>
<rect x="678.6" y="19.7" width="13.6" height="72.37" fill="#ffdb00"/>
<rect x="678.6" y="19.7" width="13.6" height="67.61" fill="#ffc400"/>
<rect x="678.6" y="19.7" width="13.6" height="62.85" fill="#ffb200"/>
<rect x="678.6" y="19.7" width="13.6" height="58.09" fill="#ff9c00"/>
<rect x="678.6" y="19.7" width="13.6" height="53.34" fill="#ff8600"/>
<rect x="678.6" y="19.7" width="13.6" height="48.58" fill="#ff7300"/>
<rect x="678.6" y="19.7" width="13.6" height="43.82" fill="#ff5d00"/>
<rect x="678.6" y="19.7" width="13.6" height="39.06" fill="#ff4700"/>
<rect x="678.6" y="19.7" width="13.6" height="34.30" fill="#ff3000"/>
<rect x="678.6" y="19.7" width="13.6" height="29.55" fill="#ff1e00"/>
<rect x="678.6" y="19.7" width="13.6" height="24.79" fill="#f10800"/>
<rect x="678.6" y="19.7" width="13.6" height="20.03" fill="#d60000"/>
<rect x="678.6" y="19.7" width="13.6" height="15.27" fill="#bf0000"/>
<rect x="678.6" y="19.7" width="13.6" height="10.52" fill="#a40000"/>
<rect x="678.6" y="19.7" width="13.6" height="5.76" fill="#890000"/>
<path fill="#fff" fill-rule="evenodd" d="M677.1 18.2h16.6v219.1h-16.6z M679.6 20.7h11.6v214.1h-11.6z"/>
<rect x="679.6" y="20.7" width="11.6" height="214.1" fill="none" stroke="#222" stroke-width="0.6"/>
<g font-family="'Liberation Serif',serif" font-size="9.3">
<text x="696" y="238.4">100</text>
<text x="696" y="214.6">110</text>
<text x="696" y="190.8">120</text>
<text x="696" y="167">130</text>
<text x="696" y="143.2">140</text>
<text x="696" y="119.5">150</text>
<text x="696" y="95.7">160</text>
<text x="696" y="71.9">170</text>
<text x="696" y="48.1">180</text>
<text x="696" y="24.3">190</text>
</g>
<path d="M691.2 234.8h2.6M691.2 211h2.6M691.2 187.2h2.6M691.2 163.4h2.6M691.2 139.6h2.6M691.2 115.9h2.6M691.2 92.1h2.6M691.2 68.3h2.6M691.2 44.5h2.6M691.2 20.7h2.6" stroke="#222" stroke-width="0.6" fill="none"/>
<text transform="translate(719.6 127.8) rotate(-90)" font-family="'Liberation Sans',sans-serif" font-size="8.2" text-anchor="middle" textLength="54" lengthAdjust="spacingAndGlyphs">Temperature (K)</text>
<!-- panel c -->
<g>
<path fill="#000089" d="M47.9 328.6l247.3 0 0 222.7-247.3 0z"/>
<path fill="#0000a4" d="M47.9 328.6l247.3 0 0 222.7-247.3 0z"/>
<path fill="#0000bf" d="M47.9 328.6l247.3 0 0 222.7-247.3 0z"/>
<path fill="#0000d6" d="M47.9 328.6l247.3 0 0 222.7-247.3 0 0-51.8 4.5 0 1.5-1.3 1-1.8-0.8-2-1.7-1.5-4.5 0z"/>
<path fill="#0000f1" d="M47.9 328.6l247.3 0 0 222.7-247.3 0 0-48.6 4.5 0 2.6-2.3 2.5-4-2.1-3.6-3-3-4.5 0zM137.8 497.9l-1 0.5-0.8 1 0.4 1 1.4 0.7 1.5-0.5 0.6-1.2-0.6-1z"/>
<path fill="#0000ff" d="M47.9 328.6l247.3 0 0 168.3-4.5 0-0.5 1.5 0.5 0.8 4.5 0 0 52.1-247.3 0 0-45.3 4.5 0 1.5-0.8 6.8-7.8 0.2-1-7-8.5-1.5-1.1-4.5 0zM137.8 495.1l-1.5 0.3-1.5 1.3-1.6 2.7 1.6 3.2 1.5 1.5 1.5 0.5 1.5-0.5 1.5-1.4 1.7-2.3 0.2-1-1.9-2.6-1.5-1.2z"/>
<path fill="#0010ff" d="M47.9 328.6l247.3 0 0 163.9-4.5 0-7.6 5.9 4.6 2.7 3 2.6 4.5 0 0 47.6-247.3 0 0-42 4.5 0 1.5-0.7 7.5-6.7 5.9-3.5 0.1-1-7.5-6.2-6-6.4-1.5-1-4.5 0zM137.8 492.3l-1.5 0.1-1.5 1-4.5 4.3-5 1.7 1.2 1 3.8 1.3 4.5 4.9 1.5 1.1 1.5 0.4 1.5-0.5 1.5-1.3 4.5-4.8 2.8-1.1 0.8-1-3.6-1.3-5.3-4.7z"/>
<path fill="#0028ff" d="M47.9 328.6l247.3 0 0 159.6-4.5 0-9 5.1-7.5 2.5-4.5 1-6 0.4-13.5 0.1-26.9-1.3-9-0.9-9-2.5-6-0.6-3 0.3-9 2.5-6 0.9-18 0.5-9 0.7-4.5-0.6-4.5-1.4-6-4.8-3-0.7-1.5 0.6-4.5 3.4-7.5 1.8-13.4 1.5-12 0.3-16.5-1.3-12-2.2-7.5-4.7-7.5-7.1-1.5-0.9-4.5 0zM190.1 501.4l4.7-0.3 9 1.8 4.5 0.4 71.9 1 6 1.1 4.5 2.7 4.5 0 0 43.2-247.3 0 0-38.7 4.5 0 1.5-0.5 7.5-5.1 4.5-2.1 4.5-0.9 15-0.6 15 0 10.5 0.5 17.9 2.7 3 1.4 3 2.7 1.5 0.7 1.5 0.1 3-1.5 4.5-4.1 3-0.9 4.5-0.5 22.5-0.2z"/>
<path fill="#0040ff" d="M47.9 328.6l247.3 0 0 155.4-4.5 0-1.7 0.4-8.8 5-7.5 3.6-3 0.8-6 0.5-13.5 0.1-15-1.3-19.4-0.9-3-0.7-7.5-3.5-6-1.1-3 0.5-9 3.4-6 0.5-13.5 0.2-6 0.9-7.5 2-3-0.5-4.5-1.5-3-1.6-4.5-3.4-3-1-1.5 0.3-4.5 2.3-10.5 2.9-11.9 1.9-9 0.5-15-1.5-13.5-2.9-3-1.2-4.5-2.7-9-7.4-1.5-0.8-4.5 0zM189.7 505.4l2.1-0.6 3 0.2 7.5 3.4 4.5 1.1 73.4 0.5 6 0.7 4.5 1.8 4.5 0 0 38.8-247.3 0 0-35.4 6-0.4 7.5-3.4 7.5-2 25.5-0.9 13.5 0.2 8.9 0.8 12 1.9 6 2.6 3 0.3 3-1.4 4.5-3.3 3-0.9 4.5-0.3 10.5 1.7 10.5 0.1 7.5-2.1z"/>
<path fill="#0058ff" d="M47.9 328.6l247.3 0 0 151.1-7.5 0.2-3 1.6-12 8.3-3 1-4.5 0.4-13.5 0.3-16.5-1.9-19.4-0.5-3-0.8-4.5-3.3-3-1.6-6-1.5-3 0.6-6 3.2-3 1.1-15-0.1-4.5 0.4-6 1.5-5.5 2.8-2 0.4-5.3-1.4-3.7-1.8-7.5-4.7-3-0.5-18 5.4-10.4 2.2-7.5 0.6-6-0.4-9-1.6-12-3.2-4.5-1.8-4.5-2.4-9-6.7-1.5-0.7-4.5 0zM189.5 509.4l2.3-0.9 3 0.5 7.5 5.1 3 1.3 3 0.5 71.9-0.1 6 0.2 4.5 0.8 4.5 0 0 34.5-247.3 0 0-32.1 6-0.2 7.5-1.9 7.5-1.1 31.5-1 11.9 0.4 24 3.3 3-0.8 6-3.2 3-0.9 3-0.2 3 0.6 7.5 2.5 10.5 0.9 3-0.6 3-1.3z"/>
<path fill="#006cff" d="M47.9 328.6l247.3 0 0 147.1-7.5-0.4-1.5 0.6-13.5 10.8-3 1.3-3 0.3-15 0.5-16.5-2.4-20.9-0.6-2.5-1.4-5-4.4-4.5-2.1-3-0.7-3 0.8-6 3.7-3 1.2-15-0.6-6 1-4.5 1.6-6 4-1.5 0.4-4.5-1.2-12-6.9-4.5-1-4.5 0.9-10.5 3.8-8.9 2.4-6 1.3-4.5 0.3-9-1-12-3-13.5-5.4-12-7.5-4.5 0zM191.3 512.3l2-0.1 1.5 0.6 7.5 6.4 3 1.7 3 0.7 37.4 0 49.5-0.7 0 30.4-247.3 0 0-29.1 58.5-1.8 5.9 0.2 14.2 1.7 6.8 0.2 5.3-1.2 6.7-2.6 4.5-1 4.5 0.9 8.1 3.7 5.2 1 4.7 0.2 1.5-0.2 3.9-2 5.1-3.1 6-4.6z"/>
<path fill="#0084ff" d="M47.9 328.6l247.3 0 0 144.6-6-0.1-3 0.6-13.5 10.5-3 1.4-4.5 0.6-13.5 0.3-18-2.6-17.9-0.4-3-1-4.5-3.8-3-1.9-3-1.3-3-0.6-3 0.4-6 3-3 1-15 0.6-6 1-6 2.1-4.5 3.2-1.5 0.4-4.5-0.8-12-6.7-4.5-1.2-4.5 0.6-10.5 3.5-10.4 2.8-6 1.1-4.5 0.3-12-1.5-9-2.5-12-4.9-12-7.6-4.5 0zM191.5 515.3l1.8-0.1 1.5 0.6 7.5 5.9 3 1.5 3 0.5 38.9 0.1 48-0.7 0 28.2-247.3 0 0-27.4 58.5-1.3 25.4 1.7 4.5-0.6 9-2.9 4.5-0.8 4.5 0.8 9 3.6 9 1 3-0.7 2.9-1.4 10.6-6.7z"/>
<path fill="#009cff" d="M47.9 328.6l247.3 0 0 142.5-6 0-3 0.9-13.5 9.9-3 1.4-4.5 0.7-15 0.2-16.5-2.5-17.9-0.7-3-0.9-4.5-3.5-4.5-2.4-3-1-3-0.3-10.5 2.9-22.5 3.3-4.5 1.5-4.5 2.8-3 0.9-4.5-1.2-10.5-5.9-4.5-1.4-5 0.6-21.9 5.9-10.5 1.2-10.5-0.9-9-2.3-12-4.9-12-7.8-4.5 0zM191.2 518.3l2.1-0.1 1.5 0.5 7.5 4.9 3 1.2 3 0.5 38.9 0.1 48-0.5 0 26.4-247.3 0 0-25.8 60-1.1 23.9 1.2 4.5-0.5 13.5-3.2 4.5 0.6 9 3.2 9 1 5.1-1.4z"/>
<path fill="#00b0ff" d="M47.9 328.6l247.3 0 0 140.4-4.5 0-3 0.6-3.4 1.8-13.1 9-3 1.1-3 0.4-15 0.1-16.5-2.4-17.9-1.1-3-0.9-9-5.4-6-1.4-13.5 2-10.5 2.6-10.5 1.9-3.5 1.1-5.5 3-3 0.5-3-0.8-12-6.6-4.5-0.8-4.8 0.7-17.6 4.4-9 1.6-7.5 0.5-9-0.7-7.5-1.8-10.5-4.1-4.5-2.5-9-6.2-4.5 0zM190.9 521.3l2.4-0.1 1.5 0.3 9 4.5 4.5 0.8 86.9 0 0 24.5-247.3 0 0-24.4 60-0.7 23.9 0.6 6-0.6 12-2.5 4.5 0.5 10.5 3 7.5 0.8 4.5-0.9z"/>
<path fill="#00c8ff" d="M47.9 328.6l247.3 0 0 138.2-4.5 0-3 1.1-16.5 10.2-3 1.2-3 0.5-15 0-16.5-2.4-17.9-1.3-3-0.9-10.5-5.4-4.5-1-4.5-0.2-9 0.8-10.5 3.8-13.5 2.5-6 3.1-3 0.9-3-0.7-12-6.4-4.5-1-6 0.7-16.4 3.7-10.5 1.8-9 0.7-7.5-0.5-7.5-2-10.5-4.3-12-8.2-4.5 0zM190.2 524.3l4.6 0.1 9 3.3 4.5 0.7 86.9 0.2 0 22.7-247.3 0 0-22.9 83.9-0.4 6-0.4 9-1.7 4.5-0.3 15 3.1 6 0.5 5.3-0.9z"/>
<path fill="#00e0fb" d="M47.9 328.6l247.3 0 0 136.2-4.5 0-1.5 0.6-18 10.5-3 1.3-3 0.5-15 0-16.5-2.3-17.9-1.6-3-0.8-12-5.3-6-1.3-6-0.7-4.5 0.6-10.5 4.9-13.5 2.2-3 1.1-4.5 2.6-3 0.4-3-1.2-10.5-5.6-4.5-1.1-8.2 0.8-12.7 2.7-16.5 2.7-6 0.5-6-0.3-7.5-1.9-10.5-4.3-12-8.4-4.5 0zM187.7 527.3l4.1-0.6 3 0.2 9 2.4 4.5 0.5 86.9 0.5 0 21-247.3 0 0-21.5 80.9-0.6 10.5-0.4 12-1.5 15 2.6 6 0.5 4.5-0.5z"/>
<path fill="#0cf4eb" d="M47.9 328.6l247.3 0 0 134.6-4.5 0-1.5 0.6-18 10.3-3 1.3-3 0.6-16.5-0.3-15-1.9-17.9-1.6-4.5-1.3-10.5-4.4-7.5-2-4.5-0.6-4.5 0.7-10.5 5.1-15 2.2-6 3.1-3 0.5-3-1.1-10.5-5.4-4.5-1-7.5 0.6-29.9 5.1-7.5 0.5-4.5-0.3-7.5-1.8-10.5-4.1-4.1-2.6-7.9-6.1-4.5 0zM144.9 529.3l7.9-0.4 18 2.6 4.5-0.2 12-2.4 6-0.5 12 2.4 4.5 0.3 85.4 0.5 0 19.7-247.3 0 0-20.3 74.9-0.6 15-0.3z"/>
<path fill="#1fffd7" d="M47.9 328.6l247.3 0 0 133.1-4.5 0-1.5 0.6-18 10-3 1.3-3 0.7-15-0.2-34.4-3.3-4.5-1.2-15-5.5-7.5-1.6-4.5 0.7-10.5 5.3-3 0.6-12 0.9-6 3.1-3 0.5-3-1-10.5-5.1-4.5-1.1-7.5 0.6-31.4 4.8-6 0.4-6-0.6-7.5-1.9-9-3.6-4.2-2.7-7.8-6.1-4.5 0zM148 530.3l6.3 0.1 16.5 2.2 4.5-0.2 12-2.2 6-0.4 12 2.1 4.5 0.4 85.4 0.4 0 18.6-247.3 0 0-19.2 81.9-0.8z"/>
<path fill="#33ffc4" d="M47.9 328.6l247.3 0 0 131.7-4.5 0-21 11-3 1-4.5 0.4-13.5-0.4-32.9-2.9-4.5-1.1-18-6.4-4.5-0.9-4.5 0.8-10.5 5.5-3 0.5-12 0.4-6 2.9-3 0.6-3-0.9-10.5-4.9-4.5-1-7.5 0.5-28.4 4.1-9 0.6-4.5-0.3-6-1.2-12-4.3-4.4-2.9-7.6-6.1-4.5 0zM189 531.3l5.8-0.1 10.5 1.9 6 0.4 83.9 0.2 0 17.6-247.3 0 0-18.1 88.4-0.9 15-0.7 19.5 2.1 6-0.4z"/>
<path fill="#43ffb4" d="M47.9 328.6l247.3 0 0 130.2-4.5 0-21 10.8-3 1-4.5 0.4-12-0.4-32.9-2.4-9-2.1-15-5.5-4.5-1-4.5 0.7-10.5 5.8-3 0.4-12-0.2-6 2.9-3 0.5-3-0.8-10.5-4.5-4.5-1-7.5 0.4-28.4 3.7-9 0.5-4.5-0.2-6-1.2-12-4.2-4.5-3-7.5-6.1-4.5 0zM137.5 533.3l15.3-0.2 18 1.7 22.5-2.3 18 2.2 83.9 0.1 0 16.5-247.3 0 0-17z"/>
<path fill="#56ffa0" d="M47.9 328.6l247.3 0 0 128.8-4.5 0-10.5 5.8-9 4.2-4.5 1.5-4.5 0.5-44.9-2.5-12-2.8-12-4.9-4.5-1.1-4.5 0.8-7.5 4.6-3 1.3-3 0.4-12-0.8-1.5 0.4-4.5 2.4-3 0.6-3-0.7-10.5-4.3-4.5-1-7.5 0.4-29.9 3.4-9 0.4-9-1.3-12-4.2-4.5-3-7.5-6.3-4.5 0zM143.1 534.3l11.2 0.1 15 1.4 6-0.2 16.5-1.9 19.5 2 83.9 0.1 0 15.5-247.3 0 0-16z"/>
<path fill="#6aff8d" d="M47.9 328.6l247.3 0 0 127.5-4.5 0-10.5 5.8-9 4-4.5 1.4-4.5 0.5-10.5-0.2-35.9-2.3-11.6-2.9-10.9-4.8-4.5-1.2-4.5 0.9-7.5 4.8-3 1.3-4.5 0.3-10.5-1.3-3 0.9-4.5 2.3-1.5 0.2-3-0.5-10.5-4.2-4.5-0.8-7.5 0.3-29.9 3.2-9 0.4-9-1.5-12-4.2-4.5-3.1-7.5-6.2-4.5 0zM185.5 535.3l9.3-0.4 16.5 1.7 83.9 0.1 0 14.6-247.3 0 0-15 48-0.8 53.9-0.2 21 1.6z"/>
<path fill="#7dff7a" d="M47.9 328.6l247.3 0 0 126.3-4.5 0-10.5 5.8-10.5 4.3-4.5 1.1-6 0.3-43.4-2.5-10.5-2.6-12-5.3-4.5-1.3-3 0.3-1.5 0.6-7.5 5-3 1.4-4.5 0.1-10.5-1.8-3 0.7-4.3 2.4-1.7 0.5-3-0.4-10.5-4-6-0.8-7.5 0.4-28.4 2.9-10.5 0.3-9-1.9-10.5-4-4.5-3.1-7.5-6.2-4.5 0zM117.5 536.3l33.8 0 18 1.6 22.5-2 19.5 1.6 83.9 0 0 13.8-247.3 0 0-14.1z"/>
<path fill="#8dff6a" d="M47.9 328.6l247.3 0 0 125-4.5 0-12 6.6-9 3.4-6 1.1-7.5 0.3-7.5-0.3-15-1.5-14.9-0.3-4.5-0.5-9.9-3-11.1-5-4.5-1.4-1.5 0-3 0.9-7.5 5.1-3 1.5-4.5 0.1-9-2.1-3-0.1-6 3-3 0.6-9.5-3.6-8.5-1.3-7.5 0.3-29.9 3-9 0.1-9-2-10.5-4.2-3-1.9-9-7.4-4.5 0zM104.2 537.3l47.1 0 18 1.6 22.5-2 19.5 1.4 83.9 0 0 13-247.3 0 0-13.2z"/>
<path fill="#a0ff56" d="M47.9 328.6l247.3 0 0 123.8-4.5 0-10.9 6-8.6 3.4-6 1.2-10.5 0.6-6-0.3-16.5-1.9-13.4 0.1-4.5-0.5-8.5-2.6-14-6.3-3-0.8-1.5 0-3 0.9-7.5 5.3-3 1.5-4.5 0.1-9-2.6-3-0.3-3 1.1-3.3 2.1-2.7 0.7-9-3.4-9-1.2-7.5 0.2-29.9 2.9-9 0-7.5-1.5-10.5-4.2-4.5-2.6-8.1-6.9-0.9-0.4-4.5 0zM95.5 538.3l55.8-0.1 18 1.6 22.5-1.9 18 1.2 85.4 0 0 12.2-247.3 0 0-12.3z"/>
<path fill="#b4ff43" d="M47.9 328.6l247.3 0 0 122.3-4.5 0-11.7 6.5-7.8 2.9-7.5 1.2-10.5 0.6-21-2.2-13.4 0.1-4.5-0.4-7.5-2.3-7.5-3.1-7.5-3.8-3-0.8-1.5 0-3 0.9-8 5.9-4 1.6-3-0.2-9-3.2-3-0.5-3 0.6-4.5 2.8-1.5 0.3-9-2.9-10.5-1-7.5 0.3-26.9 2.4-9 0.3-7.9-1.5-11.6-4.6-4.5-2.7-7.5-6.6-1.5-0.8-4.5 0zM89.1 539.3l60.7-0.1 19.5 1.5 22.5-1.8 16.5 0.9 86.9 0.1 0 11.4-247.3 0 0-11.5z"/>
<path fill="#c4ff33" d="M47.9 328.6l247.3 0 0 120.5-4.5 0-11.1 6.3-8.4 3.2-9 1.4-9 0.5-21-2.1-13.4 0-4.5-0.4-7.5-2.3-15-7-3-0.9-1.5 0-3 1.1-8.5 6.5-3.5 1.4-4.5-0.7-10.5-4.1-6-0.9-6 2.7-9-1.1-9-0.4-41.9 2.4-4.5-0.6-4.5-1.3-10.5-4.3-4.5-2.9-9-7.9-4.5 0zM83.2 540.3l66.6-0.1 19.5 1.4 22.5-1.8 12 0.7 91.4 0.3 0 10.5-247.3 0 0-10.6z"/>
<path fill="#d7ff1f" d="M47.9 328.6l247.3 0 0 118.5-4.5 0-10.5 6.1-9 3.6-9 1.5-9 0.6-21-1.9-17.9-0.7-7.5-2.2-15-7.1-3-0.9-1.5-0.1-3 1.2-8.8 7.2-3.2 1.4-4.5-0.8-9.6-4.6-3.6-2-3.3-3.2-1.5 0-3.4 4.2-2.6 1.5-34.4 0.2-21 1.5-4.5-0.2-4.5-1-12-4.5-6-3.9-9-8.5-4.5 0zM71.8 541.3l78 0 19.5 1.1 22.5-1.7 10.5 0.5 92.9 0.4 0 9.7-247.3 0 0-9.8z"/>
<path fill="#ebff0c" d="M47.9 328.6l247.3 0 0 116.4-4.5 0-10.5 6.3-9 3.7-9 1.5-9 0.7-34.4-2.1-6-0.7-6-1.9-15-7.2-3-1-1.5 0-3 1.3-9 7.8-2 1-2.5 0.3-4.5-1.5-9.7-5.8-2.5-3-2.8-5.1-1.5-0.4-4.5 8-2.5 1.5-3.5 0.7-31.4-0.1-22.5 1.3-6-1.2-10.5-3.8-6.4-3.9-10.1-10.1-4.5 0zM170.8 399.3l-1.5 0.4-1.1 1.8-1.2 6 1.9 8 0.4 0.6 1.5 0.5 1.6-1.1 1.9-8-1.9-7zM47.9 542.3l101.9 0.1 21 0.7 22.5-1.5 101.9 0.9 0 8.8-247.3 0z"/>
<path fill="#fbf100" d="M47.9 328.6l247.3 0 0 114.4-4.5 0-10.5 6.4-9 3.7-9 1.7-9 0.7-32.9-1.9-7.5-0.9-6-1.8-15-7.3-3-1.1-1.5 0-3 1.4-10.5 9.2-1.5 0.5-2.3-0.2-2.7-1-5.2-3-5.2-4-2.5-4-3.1-8-1.5-0.8-4.5 10.9-1.8 1.9-4.2 1.8-16.5 0.4-16.4-0.8-21 1.3-6-1.3-10.5-3.8-6-3.8-10.5-11.1-4.5 0zM169.3 395.9l-3.2 3.6-1.6 7 2.2 11 1.1 1.4 1.5 0.7 1.5-0.1 1.5-0.7 2.3-2.3 2-9-2.3-9-3.5-2.6zM47.9 543.3l91.4 0.1 31.5 0.4 22.5-1.4 101.9 0.9 0 8-247.3 0z"/>
<path fill="#ffdb00" d="M47.9 328.6l247.3 0 0 112.1-4.5 0-9.1 5.7-5.9 3-4.5 1.6-12 2.2-7.5 0.4-25.4-1.5-15-1.7-5.7-2-15.3-7.6-3-0.3-1.5 0.4-2.4 1.5-9.6 9-3 0.7-3-1.1-4.5-2.6-3-2.1-3-3-3-5.9-3-9.7-1.5-0.8-4 11.6-1.5 2.9-3.5 3-3 0.9-15 0.3-16.4-1.2-21 1.3-5.7-1.3-10.8-4-6-3.9-10.5-11.7-4.5 0zM167.8 391.5l-4.5 6.5-1.8 6.5-0.1 3 2.6 12 0.8 1.1 2.4 1.9 2.1 1 1.5 0.1 2.1-1.1 4.2-4 2.4-9 0.2-3-2.9-10.1-5.1-4.9-2.4-0.5zM47.9 544.3l0-0.4 4.5 0 118.4 0.6 22.5-1.2 101.9 0.8 0 7.2-247.3 0z"/>
<path fill="#ffc400" d="M47.9 328.6l247.3 0 0 108.9-4.5 0-10.5 6.6-9 3.9-10.5 1.8-7.5 0.4-32.9-1.5-9-1-6-2.1-13.5-7.5-4.5-1.1-1.6 0.5-2.9 2-9 8.8-3 0.5-3-1-4.5-2.8-3-2.3-3-3.2-2.4-5-2.6-9-1-1.4-1.5-0.1-1.5 2.9-3 9.1-1.5 2.5-3 2.4-3 0.9-15 0.1-16.4-1.1-21 1.2-6-1.3-9-3.3-4.5-2.3-3-2.5-7.9-9.1-2.2-2-4.9-0.3zM80.9 345.3l-1.5 1.4-1 1.9-0.5 4 1.5 5.6 1.5 2 1.5 0.2 1.5-0.7 3-3 2.6-4.1 0.4-2-0.9-2-2.1-2-3-1.4zM167.8 388.4l-3 1.9-4.1 5.2-2.4 8-0.2 4 2.3 12 1.4 2.9 1.5 1.6 3 1.9 3 1.2 1.5 0 3-1.1 4.5-3.9 1.5-1.9 2.1-7.7 0.7-5-2.4-10-1.9-3.9-6-4.8-1.5-0.5zM190.1 544.3l66.1-0.1 39 0.6 0 6.5-247.3 0 0-6.4 121.4 0.3z"/>
<path fill="#ffb200" d="M47.9 328.6l22 0 0 4-1 4-0.2 4 0.5 9 2.1 11-1.6 11.9 0.6 20-3.1 18 0.5 3 2.7 5-0.2 1-1.3 0.8-3 0.7-6 0.3-3-0.8-4.5-2.2-4.5 0zM83.9 328.6l211.3 0 0 106.5-4.5 0-9 5.9-9 4.5-4.5 1.2-6 0.6-7.5 0-13.5-1.5-22.4 1-7.5-0.6-6-2.4-12-7.5-6-2.5-3 0.3-2.9 1.4-2.2 2-3.9 5-1.5 1.2-1.5 0.6-3-0.6-4.5-3.3-6-5.6-1.5-2.2 0-2.8 4.5 3.7 3 1.2 3-0.1 3-0.9 4.5-1.9 1.5-1.1 1.5-1.8 4-7.4 1.5-7 0.6-6-1.6-7.8-3-7.9-6-6.4-3-1.7-3-0.5-3 0.6-3 2-3 3.8-1.7 3.9-2.3 12 1.3 12-0.7 4-1.1 1-1.2-1-1.8-0.6-1.5 0.3-1.3 1.3-3.2 9.2-1.5 2.5-3 2.4-4.5 1.1-15-0.2-20.9-2.3-17.7-0.7-6.2-2-3-2-0.1-1 1.5-0.7 10.5 1.2 3-0.5 1.5-1.3 1.5-2.9 0.5-3.8 2.7-4 1.3-2.9 1.1-6.1-0.5-9-4.3-18-1.8-12 0.5-6.9 3.5-11.2 0.2-2.8-1.7-3.7-8.5-12.3-0.5-1zM187.7 545.3l70-0.4 37.5 0.7 0 5.7-247.3 0 0-5.3 89.9-0.5 33 0.4z"/>
<path fill="#ff9c00" d="M47.9 328.6l16.6 0 0.3 20 1.6 12-0.8 7.9 0.6 19-0.4 6-2.3 11-2.1 6-1.9 2-4.1 2.8-1.5 0.5-6 0zM90.9 328.6l155.1 0 1.1 22 1.6 4.6 3 5.8 1.5 2 1.5 1 1.5 0 1.5-1.1 1.5-2.3 4.5-13.2 0.9-5.8-0.4-13 31 0 0 104.4-4.5 0-7.9 5.5-7.1 3.9-4.5 2-4.5 0.9-9 0-4.4-0.9-2.4-1-3.2-3-3.5-5.3-1.5-0.4-1.5 0.8-6 5.9-4.2 2-13.7 2.1-6-0.6-3-1-6.3-3.5-15.6-10.9-1.3-4 0.9-12-0.1-6-1.1-5-2.6-8-2.4-4.6-6-7.7-4.5-3.3-3-0.6-3 0.4-4.5 2.3-2.8 2.5-1.9 3-1.3 5-0.6 8-1.6 9-2.9 12-2.4 7.1-1.5 3.3-1.5 1.8-2.5 1.8-2 0.6-9 0.8-9-0.5-7.3-1.9-2.9-2-2-2-2-3-2.4-5 2.1-13 0.3-6-0.3-5-1.4-6-7.5-22-0.7-7.9 1.2-12-1-3.9-4.8-12.1zM126.9 546.3l12.4-0.2 31.5 0.6 86.9-1.1 37.5 0.7 0 5-221.5 0 0-4z"/>
<path fill="#ff8600" d="M47.9 328.6l13.6 0 1.8 57.9-0.2 4-2.3 13-1.4 4-2.5 2.7-4.5 2.8-4.5 0zM96.2 328.6l31.3 0 0 4 1.3 0.9 1.5 0.1 1.7-1 0-4 71.5 0 0 4 3 8 1.8 7 1.5 2.9 1.5 1.4 1.5 0 9-7.8 4.4-8.5 1.6-1.5 2.7-1.5 0-4 2.7 0 0 4 3.4 2 1.6 1.7 1.9 3.3 1.5 4 1.9 11 0.2 11-2.3 22.9 0 17-1.4 12-3.2 11-7.2 10-3.2 2.9-5.3 2-5.3 0.7-4.5-0.6-3.1-1.1-5.9-3.4-3.3-2.5-5-5-3.3-5-1.2-3-2-17-3.9-13-9.8-21.8-1.5-2-1.5-0.8-3 0.1-3 1-14.8 7.5-1.7 2.2-7.5 14.5-1.5 1-3 0.2-1.2 1.1-0.2 2 1.4 1.3 1.5 0.1 3-1.3 1.5 1 0.3 0.9 1.8 17-0.8 3-2.8 4.6-1.5 1.4-3 1.7-4.5 1.6-4.5 0.9-6-0.3-3-1.1-2.5-1.8-2.6-3-2-4 1.6-12 2.9-11 0.4-4-1.1-3-6.2-8-8.7-19.9-0.9-4-0.1-10-2.7-14zM271.2 328.6l24 0 0 101.8-4.5 0-7.9 6.1-10.8 5.9-3.8 1.2-4.5 0.1-2.6-0.3-2.9-1-2.8-2-1.6-1.9-3.9-9-1-4-0.2-3 0.9-9 1.7-10 4.9-11.4 4.3-11.6 6.3-12.9 0.4-16 3.9-18zM253.1 546.3l12.1 0 25.4 1 0 4-76 0 0-4zM124.2 547.3l13.6-0.6 12.8 0.6 0 4-26.4 0z"/>
<path fill="#ff7300" d="M47.9 328.6l11.2 0 1.8 60.9-3.1 16-1.3 2-4.1 2.5-4.5 0zM101.9 328.6l14.3 0 0 4 0.6 1 7.5 8.9 4.2 6.1 1.8 1.5 1.5 0.2 1.5-1.8 1.5-3.9 7.7-12 0-4 21.8 0 0 4 1.5 3 2 2 3 0.9 3-1 1.7-1.9 1.7-3 0-4 18.5 0 0 4 5.6 12 3.6 22-0.1 3.9-3.4 21 1.3 6 1.1 1.4 1.5 0.4 3-0.5 1.5-1 0.8-1.3 3.2-14 4.9-11 2-16.9 1.3-2 4.3-2.7 1-1.3 3.5-7.4 1.4-0.8 1.5 0.8 3 5.1 1.5 8.3-4 50.9-2.2 18-1.3 3-6.1 9-7.1 5.9-3.2 0.6-3-0.5-2.3-1.1-6.7-4.9-7.2-13-1.6-4-3.4-16-7.7-24-3.3-18.9-0.8-2-1.5-0.9-1.5 0.4-3 1.9-10.5 4.9-7.5 4.6-1.5 0.6-4.5-0.1-1.5 0.4-1.5 1.4-0.8 1.7-0.2 4-0.5 1.4-1.5 1.7-1.5 0.1-1-1.2-5.6-13.9-0.5-2 0.3-4-1.4-4 0-2-0.8-1.3-3 2-0.7 1.3 0.4 2-0.5 6-1.2 3-8.6 11.9-1.4 1.3-1.5 0.6-1.5-0.7-1.5-4.2-8.4-16.9-2-23zM276.7 328.6l18.5 0 0 95.1-4.5 0-1.5 1.1-7.5 7.7-12 7.3-3 0.5-4.5-1.2-3.6-2.6-3.4-7-1.1-4 0.1-2 2.4-17 1.1-4.7 7.2-18.3 7.4-15-0.2-17.9 4.6-18zM122 408.5l2.3-0.5 1.5 0.6 1.5 1.7 0.8 2.2 0.3 5 1.2 4-1.7 2-2.1 1-3 0.2-1.5-0.6-1.8-1.6-0.9-2 1.2-9 1.1-2zM253.3 547.3l13.2 0 0 4-13.2 0z"/>
<path fill="#ff5d00" d="M47.9 328.6l9.2 0 1.7 59.9-2.8 15-0.9 2-2.7 1.8-4.5 0zM283.6 337.6l1.1-0.4 4.5 2.2 6 0 0 79-4.5 0-1.5 0.6-10.5 9.7-10.5 5.5-3 0.1-1.5-0.7-1.5-1.6-1.5-2.5-1.1-4 0.7-8 1.6-10 7.8-22 7.2-15 0.6-2.9-0.2-13 0.4-4 2.5-7.6 1.5-3.2zM186.6 338.6l2.2 0.1 1.5 0.9 3.1 5 1.1 4 1.2 9 2.1 9 0.1 3.9-1.6 5.9-1.5 3.2-1.5 1.2-1.5-0.8-1.5-2.3-1.5-4.1-2.5-17-1.4-3-3.8-5-0.6-2 0.7-3 1.6-2.5 1.5-1.4zM149.1 339.6l3.7-0.6 4.5 1.6 9.3 6 1.5 2 0.1 2-1.3 2-2.7 2-11.4 6.3-4.5 1.2-6 0.2-2.3-1.7-2.2-3.4-1.2-3.6 0.2-2 1-1.6 7.5-7.4zM112 342.6l1.8 0 3 1.9 5.9 6.1 1.1 2-0.7 5-1.5 4-1.9 3-2.9 2.4-1.5 0-1.8-1.4-3.2-10-0.3-8 0.9-3.8zM224.2 381.5l0.6-0.6 1.5-0.3 0.8 1.9 0.7 3 0.9 12-0.1 4-2.7 19-2.9 7-2.7 3.5-4.5 3.3-3 0.5-1.5-0.3-3-1.7-1.5-1.4-8-10.9-0.6-4 0.6-7 0.5-1.4 1.5-1.4 9-2 3-1.3 2.1-1.9 1.8-3 3.6-10.9 1.5-3.2z"/>
<path fill="#ff4700" d="M47.9 328.6l7.7 0 0.8 11 0.2 48.9-2.3 12-0.4 1.4-1.5 1.8-4.5 0zM289.3 352.6l1.4-0.5 4.5 0 0 61-4.5 0-1.5 0.5-3 2.2-3.3 4.7-2.7 2.6-6 2.8-3 0.5-1.5-0.3-1.5-1.4-1.1-3.2-0.1-3 0.6-4 2.1-4.5 4.5-4.7 1.8-2.8 0.3-3-1.8-8 0.6-5 7.1-16 2.7-12.9 1.8-3zM207.5 413.5l2.3-0.6 3 0.1 1.7 0.5 1.9 2 0.5 3-0.5 3-2.1 4-1.5 0.8-1.5 0-1.8-0.8-5.9-6 0.2-3 1.5-1.8z"/>
<path fill="#ff3000" d="M47.9 328.6l6.3 0 0.1 5 1 6 0.2 13-0.7 9-0.3 24.9-0.6 5.3-1.5 4.8-4.5 0zM290.3 369.5l0.4-0.5 4.5 0 0 37.3-7.5 0-3-1.1-1.5-1.9-1.2-2.8-2-7 0-4 1.4-5z"/>
<path fill="#ff1e00" d="M47.9 328.6l4.7 0 0 4 1.8 7 0 13-1.2 9 0 8.9-0.8 7.6-4.5 0zM290.2 383.5l0.5-0.4 4.5 0 0 15.7-6-0.3-2.7-2-1-2-0.1-2 0.8-3.4 1.5-2.8z"/>
<path fill="#f10800" d="M47.9 337.6l0-0.7 4.5 0 0.9 2.7-0.4 7 0.4 6-0.9 3.8-4.5 0z"/>
<path d="M137.8 495.1l-1.5 0.3-1.5 1.3-1.2 1.7-0.4 1 0.2 1 1.4 2.2 1.5 1.5 1.5 0.5 1.5-0.5 1.5-1.4 1.7-2.3 0.2-1-0.5-1-1.4-1.6-1.5-1.2-1.5-0.5M295.2 496.9l-4.5 0-0.4 0.5-0.1 1 0.5 0.8 4.5 0M47.9 506l4.5 0 1.5-0.8 2-2.1M56.8 491.3l-2.9-3.4-1.5-1.1-4.5 0M295.2 475.7l-4.5 0-3-0.4-1.5 0.6-13.5 10.8-3 1.3-4.5 0.4-13.5 0.4-6-0.7-10.5-1.7-17.9-0.3-3-0.3-1.5-0.6-1-0.8-3.5-3.3-1.5-1.1-4.5-2.1-1.5-0.5-1.5-0.2-1.5 0.2-1.5 0.6-6 3.7-1.5 0.7-3 0.6-4.5-0.2M166.4 483.3l-3.1 1-2.4 1.1-5.1 3.5-1.5 0.4-1.5-0.2-1.5-0.4-3-1.4-10.5-6.1-2.3-0.8-2.2-0.2-2 0.2-2.5 0.7-10.5 3.8-10.4 2.8-6 1.1-3 0.1-3-0.1-10.5-1.9-4.5-1.1-6-1.9-7.5-3-4.5-2.2-3-1.8-6-4.2-1.5-0.7-4.5 0M59.9 521.8l31.5-1.2 16.5-0.2 5.9 0.3 12.7 1.6 6.8 0.2 1.7-0.2 3.6-1 6.7-2.6 4.5-1 1.5 0.1 3 0.8 5.6 2.7 2.5 1 5.2 1 4.7 0.2 1.5-0.2 3.9-2 5.1-3.1 6-4.6 1.5-0.9 1.5-0.5 1.5 0 1.5 0.6 1.5 1.1 4.5 4.3 3 2 2.6 1.1 1.9 0.3 37.4 0 49.5-0.7M295.2 464.8l-4.5 0-1.5 0.6-10.5 5.8-7.5 4.7-3 1.3-1.5 0.4-3 0.2-12 0-6-0.6-6-0.9M224.7 474.6l-7.4-0.5-3-0.6-3-1.1-7.5-3.7-3-1-6-1.3-6-0.7-1.5 0-3 0.6-9 4.3-3 1-10.5 1.5-3 0.8-6 3.2-1.5 0.4-1.5 0-1.5-0.5-12-6.3-3-0.9-1.5-0.2-3 0.1-5.2 0.7-12.7 2.7-16.5 2.7-6 0.5-4.5-0.2-3-0.4-4.5-1.1-4.5-1.6-6-2.4-4.5-2.5-7.5-5.9-1.5-0.8-4.5 0M47.9 529.8l28.4-0.1M91.4 529.6l41.9-0.5 6-0.3 7.5-1.2 4.5-0.3 4.5 0.5 10.5 2.1 6 0.5 4.5-0.5 12-2.8 4.5-0.4 3 0.5 7.8 2.1 4.2 0.5 35.9 0.4 51 0.1M295.2 457.4l-4.5 0-9 5-9 4.3-4.5 1.8-4.5 0.9-10.5-0.3-29.9-1.6-6-0.6-6-1.2-6-1.6-4.5-1.6-7.5-3.3-4.5-1.1-1.5 0-3 0.8-7.5 4.6-3 1.3-3 0.4-9-0.8-3 0-1.5 0.4-4.5 2.4-1.5 0.5-1.5 0.1-1.5-0.2-9.3-3.7M124.3 462.2l-14.9 1.9-16.5 1.7-7.5 0.2-4.5-0.4-7.5-1.8-7.5-2.6-4.5-2.6-7.5-6.5-1.5-0.9-4.5 0M47.9 535.3l43.5-0.7 58.4-0.3 4.5 0.1 10.5 1.2 6 0.2 6-0.4 12-1.5 4.5-0.2 16.5 2 46.4 0.1M271.2 535.8l24 0M295.2 450.9l-4.5 0-1.5 0.7-6.3 3.8-5.7 2.8-4.5 1.7-4.5 1.1-9 0.9-7.5 0.2-6-0.5-8.9-1.3M221.7 460l-5.9-0.2-4.5-0.9-10.5-4-9-4.5-3-0.8-1.5 0-1.5 0.3-1.5 0.6-8 5.9-2.5 1.3-1.5 0.3-3-0.2-9-3.2-3-0.5-1.5 0.1-1.5 0.5-4.5 2.8-1.5 0.3-1.5-0.2-4.5-1.9-3-0.8-6-0.8-4.5-0.2-7.5 0.3-28.4 2.5-6 0.2-3-0.2-3-0.4-4.5-1.2-9-3.6-3-1.5-3-1.9-7.5-6.6-1.5-0.8-4.5 0M47.9 539.8l48-0.5 53.9-0.1 4.5 0.2 12 1.2 4.5 0.1 6-0.3 12-1.4 6 0M209.8 539.8l85.4 0.1M167.8 391.5l-1 1-1.1 2-2.2 3-0.4 1-1.6 6-0.1 2 0.3 3M167.5 422.6l1.8 0.9 1.8 0 1.8-1 3.9-3.6 1-2.4 1.7-7 0.3-2-0.3-2-1.8-7-0.9-2.1-3-2.6-0.9-1.3-1.2-1-0.9-0.4-1.5-0.1-1.5 0.5M295.2 440.7l-4.5 0-1.5 0.7-4.5 3.2-3.1 1.8-5.9 3-4.5 1.6-6.7 1.4-5.3 0.8-7.5 0.4-7.5-0.3-17.9-1.2-8.2-0.7-6.8-1-3-0.8-2.7-1.2-15.3-7.6-1.5-0.3-1.5 0-1.5 0.4-2.4 1.5-9.6 9-1.5 0.7-1.5 0-3-1.1-4.5-2.6-3-2.1-3-3-1.5-2.3-1.5-3.6-3-9.7-1.5-0.8-4.4 12.6-1.9 2.9-2.7 2-1.5 0.6-3 0.4-5.9 0.2M115.3 445l-5.9-0.5-4.5 0-12 1-6 0.2-3-0.2-3-0.7-9.7-3.4-5.3-2.6-3-2.3-1.5-1.5-3-3.3-4.5-5.7-1.5-1.2-4.5 0M47.9 543.9l40.4 0.2M103.4 544.2l67.4 0.3 22.5-1.2 64.4 0.2 37.5 0.6M59.1 328.6l0 6 1.9 50.9-0.1 3.6M58.3 403.9l-0.5 1.6-0.9 1.6-3 2.3-1.5 0.6-4.5 0M116.2 328.6l0 4 0.6 1 7.5 8.9 4.2 6.1 1.8 1.5 1.5 0.2 1.5-1.8 0.9-2.9 0.6-1 2.1-3 5.6-9 0-4M164.3 328.6l0 4 0.8 1.7M176.5 334.1l0.7-1.5 0-4M195.7 328.6l0 4 4.9 10 0.7 2 3.6 22 0.2 1.9-0.3 2-3.4 21 0.2 2 0.7 3 0.4 1 1.1 1.4 1.5 0.4 1.5-0.1 1.5-0.4 1.5-1 0.8-1.3 3.2-14 3.9-8 1-3 0.4-2 1.1-12.9 0.5-2 0.5-1 0.8-1 1.3-0.9 3-1.8 1-1.3 2-3.5 1.5-3.9 1.4-0.8 1.5 0.8 2.4 3.4 1 3 1 5 0.1 2-4.1 51.9-1.7 15-0.7 3-1 2-5.3 8-2.8 3-5.1 3.9-1.7 0.5-3-0.1-1.8-0.4-3.6-1.9-4.2-3-1.5-2-6.6-12-1.2-3-0.6-2-2.4-12-2.4-7.8M183.9 383.3l-1.8-5.8-3-17.9-0.8-2-1.5-0.9-1.5 0.4-3 1.9-10.5 4.9-4.5 2.6-3 2-1.5 0.6-4.5-0.1-1.5 0.4-1.3 1.1-0.6 1-0.5 2 0 2-0.4 2-1.7 2.1-1.5 0.1-1-1.2-1.3-4-4.3-9.9-0.5-2 0.3-4-1.4-4 0-2-0.8-1.3-3 2-0.7 1.3 0.4 2-0.5 3 0.1 1.1M120.8 373.6l-1.8 2.9-2.2 2.3-1.5 0.6-1.5-0.7-1.5-4.2-8.1-15.9-0.6-3-1.7-21 0-6M128.8 422.6l-1.5 1.2-1.5 0.7-1.5 0.3-1.5-0.1-1.5-0.6-1.5-1.2-0.9-1.4-0.3-1 0.3-2.7M126.4 409.1l1 1.4 0.7 2 0.3 5 1.1 3 0.1 1-0.8 1.1M295.2 423.7l-4.5 0-1.5 1.1-6 6.4-1.5 1.3-12 7.3-1.5 0.5-1.5 0-3-0.6-2.7-1.2-1.4-1-1.7-2-2.7-6-0.9-3-0.2-2 2.9-20 1.2-4 6.7-17 7.1-14 0.5-2.9-0.3-8.5M273.9 343.3l2.8-10.7 0-4M253.3 551.3l0-3.9M266.5 549.1l0 2.2M53 344.2l-0.1 2.4 0.4 6-0.9 3.8-4.5 0" fill="none" stroke="#000" stroke-width="1.3" stroke-linejoin="round"/>
</g>
<path fill="#fff" fill-rule="evenodd" d="M46.4 327.1h250.3v225.7h-250.3z M52.4 332.6h238.3v214.7h-238.3z"/>
<clipPath id="acc"><rect x="49.9" y="332.6" width="243.2" height="214.7"/></clipPath>
<g clip-path="url(#acc)">
<g font-family="'Liberation Sans',sans-serif" font-size="8.4" text-anchor="middle" fill="#000" font-style="italic">
<text transform="translate(56.3 497.2) rotate(-85.2)" y="2.9" textLength="11.9" lengthAdjust="spacingAndGlyphs">110</text>
<text transform="translate(173.8 483.1) rotate(-1.7)" y="2.9" textLength="11.9" lengthAdjust="spacingAndGlyphs">120</text>
<text transform="translate(52.4 522.2) rotate(-2.7)" y="2.9" textLength="11.9" lengthAdjust="spacingAndGlyphs">120</text>
<text transform="translate(232.2 475.5) rotate(6.2)" y="2.9" textLength="11.9" lengthAdjust="spacingAndGlyphs">130</text>
<text transform="translate(83.9 529.7) rotate(-0.2)" y="2.9" textLength="11.9" lengthAdjust="spacingAndGlyphs">130</text>
<text transform="translate(131.7 463) rotate(6.5)" y="2.9" textLength="11.9" lengthAdjust="spacingAndGlyphs">140</text>
<text transform="translate(263.7 535.8) rotate(0)" y="2.9" textLength="11.9" lengthAdjust="spacingAndGlyphs">140</text>
<text transform="translate(229.2 460.1) rotate(1.2)" y="2.9" textLength="11.9" lengthAdjust="spacingAndGlyphs">150</text>
<text transform="translate(202.3 539.4) rotate(3.2)" y="2.9" textLength="11.9" lengthAdjust="spacingAndGlyphs">150</text>
<text transform="translate(164.6 416.1) rotate(66.4)" y="2.9" textLength="11.9" lengthAdjust="spacingAndGlyphs">160</text>
<text transform="translate(122.9 445.3) rotate(2.1)" y="2.9" textLength="11.9" lengthAdjust="spacingAndGlyphs">160</text>
<text transform="translate(95.9 544.1) rotate(0.2)" y="2.9" textLength="11.9" lengthAdjust="spacingAndGlyphs">160</text>
<text transform="translate(59.6 396.5) rotate(-80)" y="2.9" textLength="11.9" lengthAdjust="spacingAndGlyphs">170</text>
<text transform="translate(124.4 367.1) rotate(-60.7)" y="2.9" textLength="11.9" lengthAdjust="spacingAndGlyphs">170</text>
<text transform="translate(122.6 413.5) rotate(-49.3)" y="2.9" textLength="11.9" lengthAdjust="spacingAndGlyphs">170</text>
<text transform="translate(170.8 334.2) rotate(-0.8)" y="2.9" textLength="11.9" lengthAdjust="spacingAndGlyphs">170</text>
<text transform="translate(186.2 390.5) rotate(72)" y="2.9" textLength="11.9" lengthAdjust="spacingAndGlyphs">170</text>
<text transform="translate(273 350.7) rotate(-83.3)" y="2.9" textLength="11.9" lengthAdjust="spacingAndGlyphs">170</text>
<text transform="translate(259.9 548.3) rotate(7)" y="2.9" textLength="11.9" lengthAdjust="spacingAndGlyphs">170</text>
<text transform="translate(54.2 336) rotate(-90)" y="2.9" textLength="11.9" lengthAdjust="spacingAndGlyphs">180</text>
</g>
</g>
<rect x="49.9" y="332.6" width="243.2" height="214.7" fill="none" stroke="#4a4a4a" stroke-width="0.55"/>
<path d="M49.9 547.3h-3.2M49.9 499.8h-3.2M49.9 452.3h-3.2M49.9 404.8h-3.2M49.9 357.3h-3.2M49.9 547.3v3.2M80.3 547.3v3.2M110.7 547.3v3.2M141.1 547.3v3.2M171.5 547.3v3.2M201.9 547.3v3.2M232.3 547.3v3.2M262.7 547.3v3.2M293.1 547.3v3.2" stroke="#222" stroke-width="0.6" fill="none"/>
<path d="M49.9 338.4h-1.8M49.9 343h-1.8M49.9 346.8h-1.8M49.9 349.9h-1.8M49.9 352.7h-1.8M49.9 355.1h-1.8M49.9 371.6h-1.8M49.9 380h-1.8M49.9 385.9h-1.8M49.9 390.5h-1.8M49.9 394.3h-1.8M49.9 397.4h-1.8M49.9 400.2h-1.8M49.9 402.6h-1.8M49.9 419.1h-1.8M49.9 427.5h-1.8M49.9 433.4h-1.8M49.9 438h-1.8M49.9 441.8h-1.8M49.9 444.9h-1.8M49.9 447.7h-1.8M49.9 450.1h-1.8M49.9 466.6h-1.8M49.9 475h-1.8M49.9 480.9h-1.8M49.9 485.5h-1.8M49.9 489.3h-1.8M49.9 492.4h-1.8M49.9 495.2h-1.8M49.9 497.6h-1.8M49.9 514.1h-1.8M49.9 522.5h-1.8M49.9 528.4h-1.8M49.9 533h-1.8M49.9 536.8h-1.8M49.9 539.9h-1.8M49.9 542.7h-1.8M49.9 545.1h-1.8" stroke="#333" stroke-width="0.45" fill="none"/>
<text x="44.7" y="550.4" font-family="'Liberation Sans',sans-serif" font-size="8.5" text-anchor="end">1000</text>
<text x="44.7" y="502.9" font-family="'Liberation Sans',sans-serif" font-size="8.5" text-anchor="end">100</text>
<text x="44.7" y="455.4" font-family="'Liberation Sans',sans-serif" font-size="8.5" text-anchor="end">10</text>
<text x="44.7" y="407.9" font-family="'Liberation Sans',sans-serif" font-size="8.5" text-anchor="end">1</text>
<text x="44.7" y="360.4" font-family="'Liberation Serif',serif" font-size="9.3" text-anchor="end">0.1</text>
<g font-family="'Liberation Serif',serif" font-size="9.3" text-anchor="middle">
<text x="49.3" y="559.6">−80</text>
<text x="79.7" y="559.6">−60</text>
<text x="110.1" y="559.6">−40</text>
<text x="140.5" y="559.6">−20</text>
<text x="171.5" y="559.6">0</text>
<text x="201.9" y="559.6">20</text>
<text x="232.3" y="559.6">40</text>
<text x="262.7" y="559.6">60</text>
<text x="293.1" y="559.6">80</text>
</g>
<text x="171.5" y="572.2" font-family="'Liberation Sans',sans-serif" font-size="11.3" text-anchor="middle" textLength="36" lengthAdjust="spacingAndGlyphs">Latitude</text>
<text transform="translate(20.5 439.9) rotate(-90)" font-family="'Liberation Sans',sans-serif" font-size="11.3" text-anchor="middle" textLength="71.5" lengthAdjust="spacingAndGlyphs">Pressure (mbar)</text>
<text x="171.5" y="328.2" font-family="'Liberation Sans',sans-serif" font-size="11.3" text-anchor="middle" textLength="22.1" lengthAdjust="spacingAndGlyphs">CIRS</text>
<text x="183.2" y="602.2" font-family="'Liberation Serif',serif" font-size="12.6" text-anchor="middle">(c)</text>
<rect x="307.4" y="331.6" width="13.5" height="215.70" fill="#000089"/>
<rect x="307.4" y="331.6" width="13.5" height="210.93" fill="#0000a4"/>
<rect x="307.4" y="331.6" width="13.5" height="206.16" fill="#0000bf"/>
<rect x="307.4" y="331.6" width="13.5" height="201.39" fill="#0000d6"/>
<rect x="307.4" y="331.6" width="13.5" height="196.62" fill="#0000f1"/>
<rect x="307.4" y="331.6" width="13.5" height="191.84" fill="#0000ff"/>
<rect x="307.4" y="331.6" width="13.5" height="187.07" fill="#0010ff"/>
<rect x="307.4" y="331.6" width="13.5" height="182.30" fill="#0028ff"/>
<rect x="307.4" y="331.6" width="13.5" height="177.53" fill="#0040ff"/>
<rect x="307.4" y="331.6" width="13.5" height="172.76" fill="#0058ff"/>
<rect x="307.4" y="331.6" width="13.5" height="167.99" fill="#006cff"/>
<rect x="307.4" y="331.6" width="13.5" height="163.22" fill="#0084ff"/>
<rect x="307.4" y="331.6" width="13.5" height="158.45" fill="#009cff"/>
<rect x="307.4" y="331.6" width="13.5" height="153.68" fill="#00b0ff"/>
<rect x="307.4" y="331.6" width="13.5" height="148.90" fill="#00c8ff"/>
<rect x="307.4" y="331.6" width="13.5" height="144.13" fill="#00e0fb"/>
<rect x="307.4" y="331.6" width="13.5" height="139.36" fill="#0cf4eb"/>
<rect x="307.4" y="331.6" width="13.5" height="134.59" fill="#1fffd7"/>
<rect x="307.4" y="331.6" width="13.5" height="129.82" fill="#33ffc4"/>
<rect x="307.4" y="331.6" width="13.5" height="125.05" fill="#43ffb4"/>
<rect x="307.4" y="331.6" width="13.5" height="120.28" fill="#56ffa0"/>
<rect x="307.4" y="331.6" width="13.5" height="115.51" fill="#6aff8d"/>
<rect x="307.4" y="331.6" width="13.5" height="110.74" fill="#7dff7a"/>
<rect x="307.4" y="331.6" width="13.5" height="105.96" fill="#8dff6a"/>
<rect x="307.4" y="331.6" width="13.5" height="101.19" fill="#a0ff56"/>
<rect x="307.4" y="331.6" width="13.5" height="96.42" fill="#b4ff43"/>
<rect x="307.4" y="331.6" width="13.5" height="91.65" fill="#c4ff33"/>
<rect x="307.4" y="331.6" width="13.5" height="86.88" fill="#d7ff1f"/>
<rect x="307.4" y="331.6" width="13.5" height="82.11" fill="#ebff0c"/>
<rect x="307.4" y="331.6" width="13.5" height="77.34" fill="#fbf100"/>
<rect x="307.4" y="331.6" width="13.5" height="72.57" fill="#ffdb00"/>
<rect x="307.4" y="331.6" width="13.5" height="67.80" fill="#ffc400"/>
<rect x="307.4" y="331.6" width="13.5" height="63.02" fill="#ffb200"/>
<rect x="307.4" y="331.6" width="13.5" height="58.25" fill="#ff9c00"/>
<rect x="307.4" y="331.6" width="13.5" height="53.48" fill="#ff8600"/>
<rect x="307.4" y="331.6" width="13.5" height="48.71" fill="#ff7300"/>
<rect x="307.4" y="331.6" width="13.5" height="43.94" fill="#ff5d00"/>
<rect x="307.4" y="331.6" width="13.5" height="39.17" fill="#ff4700"/>
<rect x="307.4" y="331.6" width="13.5" height="34.40" fill="#ff3000"/>
<rect x="307.4" y="331.6" width="13.5" height="29.63" fill="#ff1e00"/>
<rect x="307.4" y="331.6" width="13.5" height="24.86" fill="#f10800"/>
<rect x="307.4" y="331.6" width="13.5" height="20.08" fill="#d60000"/>
<rect x="307.4" y="331.6" width="13.5" height="15.31" fill="#bf0000"/>
<rect x="307.4" y="331.6" width="13.5" height="10.54" fill="#a40000"/>
<rect x="307.4" y="331.6" width="13.5" height="5.77" fill="#890000"/>
<path fill="#fff" fill-rule="evenodd" d="M305.9 330.1h16.5v219.7h-16.5z M308.4 332.6h11.5v214.7h-11.5z"/>
<rect x="308.4" y="332.6" width="11.5" height="214.7" fill="none" stroke="#222" stroke-width="0.6"/>
<g font-family="'Liberation Serif',serif" font-size="9.3">
<text x="324.6" y="550.9">100</text>
<text x="324.6" y="527">110</text>
<text x="324.6" y="503.2">120</text>
<text x="324.6" y="479.3">130</text>
<text x="324.6" y="455.5">140</text>
<text x="324.6" y="431.6">150</text>
<text x="324.6" y="407.8">160</text>
<text x="324.6" y="383.9">170</text>
<text x="324.6" y="360.1">180</text>
<text x="324.6" y="336.2">190</text>
</g>
<path d="M319.9 547.3h2.6M319.9 523.4h2.6M319.9 499.6h2.6M319.9 475.7h2.6M319.9 451.9h2.6M319.9 428h2.6M319.9 404.2h2.6M319.9 380.3h2.6M319.9 356.5h2.6M319.9 332.6h2.6" stroke="#222" stroke-width="0.6" fill="none"/>
<text transform="translate(347.8 439.9) rotate(-90)" font-family="'Liberation Sans',sans-serif" font-size="8.2" text-anchor="middle" textLength="54" lengthAdjust="spacingAndGlyphs">Temperature (K)</text>
<!-- panel d -->
<g>
<path fill="#000089" d="M447.8 329.6l189.9 0 0 204.5-189.9 0z"/>
<path fill="#0000a4" d="M447.8 329.6l189.9 0 0 204.5-189.9 0z"/>
<path fill="#0000bf" d="M447.8 329.6l189.9 0 0 204.5-189.9 0z"/>
<path fill="#0000d6" d="M447.8 329.6l189.9 0 0 204.5-189.9 0z"/>
<path fill="#0000f1" d="M447.8 329.6l189.9 0 0 204.5-189.9 0zM492.7 503.9l-5.2 1.1-1 1 3.2 0.7 7.5 0.2 3.9-0.9 0.3-1-3.1-1zM582.4 505l-8.3 1 2.3 0.6 7.5 0.8 7.2-0.4-0.4-1z"/>
<path fill="#0000ff" d="M447.8 329.6l189.9 0 0 174.1-4.5 0-10.5 2-11.9 0.5-4.5-0.6-11-2.6-11.4-1.7-13.5-0.3-9.5 1-3.9 2.1-3 2.9 1.2 1 3.6 1 14.4 2 13.7 0.6 16.4-1.4 9-0.2 10.4 0.8 10.5 2.7 4.5 0 0 20.6-189.9 0 0-25.8 4.5 0 9-1.2 1.7-1.1-10.7-3.8-4.5 0zM495.7 498.9l-10.5 2.1-7.5 3.5-5.8 1.5-0.7 1 19.2 4 11.2 0.6 4.5-0.8 4-1.8 2.1-2 0.2-1-1.8-3-1.5-1.5-3-1.5-4.5-1z"/>
<path fill="#0010ff" d="M447.8 329.6l189.9 0 0 171.7-4.5 0-12 1.7-10.4 0.3-26.9-4.2-7.5-0.5-7.5 0.2-9 1-2.9 1.3-4.5 2.9-6 1.8-7.5 0.8-7.5 0.2-10.4-1.2-6-1.4-1.5-0.9-4.5-4.3-4.5-1.5-4.5-0.7-5.9 0.1-6 1-4.5 1.2-7.5 3.1-7.5 1-4.4-0.3-12-3.3-4.5 0zM520.8 508l9.2-0.7 9 0.3 7.5 1 13.4 3.5 12 1.3 16.2 0.7 16.7-1.3 7.5 0.1 11.9 1 9 2.3 4.5 0 0 17.9-189.9 0 0-22.9 19.5-1.2 7.4 0.8 15 2.5 11.9 0.6 6-1 3-1.2 4.5-2.6z"/>
<path fill="#0028ff" d="M447.8 329.6l189.9 0 0 169.5-4.5 0-12 1.3-10.4 0.1-26.9-3.4-13.5-0.3-10.5 0.9-7.4 3.3-6 1.5-13.5 0.5-10.4-0.6-6-0.8-3-1.1-3-2.5-2-1-5.5-1.4-4.5-0.5-10.4 0.8-4.5 1-7.5 2.7-7.5 0.8-4.4-0.3-12-2.8-4.5 0zM527.2 511l17.8 0.7 12 2.4 11.9 1.4 18 0.8 23.9-0.7 11.9 0.8 10.5 2.1 4.5 0 0 15.6-189.9 0 0-20.2 19.5-0.9 22.4 2.5 11.9 0.3 7.5-1.1 6-2.6z"/>
<path fill="#0040ff" d="M447.8 329.6l189.9 0 0 167.4-26.9 0.7-26.9-2.5-12-0.4-12 0.9-7.4 2.3-6 1.1-13.5 0.5-16.4-1.1-3-0.7-3-1.8-3-1-10.4-1.6-9 0.4-12 3.1-6 0.6-5.9-0.3-12-2.3-4.5 0zM516 515.1l9.6-0.7 11.9 0.1 7.5 0.5 20.9 2.6 21 0.9 23.9-0.2 11.9 0.9 10.5 1.6 4.5 0 0 13.3-189.9 0 0-17.6 19.5-0.5 22.4 1.6 11.9 0.2 7.5-0.9z"/>
<path fill="#0058ff" d="M447.8 329.6l189.9 0 0 165.3-26.9 0.1-37.4-2.1-12 0.5-16.4 2.5-13.5 0.3-16.4-0.9-10.5-2.5-10.4-1.3-7.5 0.5-10.5 2.2-4.5 0.4-7.4-0.2-12-1.9-4.5 0zM516.8 518.1l20.7-0.3 26.9 2.1 43.4 1.1 14.9 0.9 10.5 1.2 4.5 0 0 11-189.9 0 0-14.9 19.5-0.3 32.8 0.8 7.5-0.4z"/>
<path fill="#006cff" d="M447.8 329.6l189.9 0 0 163.2-64.3-1.8-29.9 1.7-13.5 0.2-16.4-0.5-20.9-2.8-4.5 0.2-16.5 2-8.9-0.3-10.5-1.3-4.5 0zM512.6 521.1l23.4-0.3 70.3 2.5 31.4 1.8 0 9-189.9 0 0-12.4 43.4 0z"/>
<path fill="#0084ff" d="M447.8 329.6l189.9 0 0 161.2-65.8-2.1-44.8 1.5-16.5-0.5-17.9-2.1-21 1.6-23.9-1.5zM498.1 523.1l36.4-0.7 67.3 2.2 35.9 1.9 0 7.6-189.9 0 0-10.7z"/>
<path fill="#009cff" d="M447.8 329.6l189.9 0 0 159.2-67.3-2.5-13.4 0.1-29.9 1.3-16.5-0.5-17.9-1.6-21 1-23.9-1.3zM509.3 524.1l28.2-0.3 65.8 2.2 34.4 1.7 0 6.4-189.9 0 0-9.3 41.9-0.2z"/>
<path fill="#00b0ff" d="M447.8 329.6l189.9 0 0 157.2-74.8-3.1-10.4 0.1-25.4 1.3-16.5-0.3-17.9-1.3-21 0.5-23.9-1.1zM521.3 525.1l16.2 0.1 64.3 2 35.9 1.7 0 5.2-189.9 0 0-7.8 43.4-0.3z"/>
<path fill="#00c8ff" d="M447.8 329.6l189.9 0 0 155.2-79.3-3.8-32.8 1.6-77.8-2.1zM500.6 527.1l33.9-0.7 85.5 2.7 17.7 1 0 4-189.9 0 0-6.4z"/>
<path fill="#00e0fb" d="M447.8 329.6l189.9 0 0 153.2-55.3-2.7-25.4-1.8-7.5 0.1-16.5 1.3-8.9 0.3-76.3-2zM519 528.1l21.5 0.1 76.3 2.2 10.9 0.7 0 3-179.9 0 0-4.7 44.9-0.5z"/>
<path fill="#0cf4eb" d="M447.8 329.6l189.9 0 0 151.1-6 0-32.9-2.4-19.4-0.6-23.9-2.1-25.5 1.6-11.9 0.1-31.4-0.5-38.9-1.5z"/>
<path fill="#1fffd7" d="M447.8 329.6l189.9 0 0 149.1-12-0.5-26.9-2.5-19.4-0.1-23.9-2.6-27 1.5-22.4 0.2-23.9-0.4-34.4-1.6z"/>
<path fill="#33ffc4" d="M447.8 329.6l189.9 0 0 147.1-15-0.8-23.9-2.8-19.4 0.3-13.5-2-10.4-1-28.4 1.5-29.9 0.3-18-0.4-31.4-1.8z"/>
<path fill="#43ffb4" d="M447.8 329.6l189.9 0 0 145.1-6-0.1-10.5-1-22.4-3.1-19.4 0.8-13.5-2.4-10.4-1.1-28.4 1.4-34.4 0.5-16.5-0.5-23.9-1.9-4.5 0z"/>
<path fill="#56ffa0" d="M447.8 329.6l189.9 0 0 143-6-0.1-13.5-1.4-19.4-3.2-19.4 1.1-13.5-2.5-10.4-1.4-29.9 1.5-34.4 0.7-13.5-0.5-25.4-2.1-4.5 0z"/>
<path fill="#6aff8d" d="M447.8 329.6l189.9 0 0 140.7-6-0.1-12-1.3-20.9-3.6-19.4 1.2-13.5-2.6-10.4-1.5-29.9 1.6-34.4 0.8-43.4-2.7z"/>
<path fill="#7dff7a" d="M447.8 329.6l189.9 0 0 138.4-6-0.1-12-1.4-20.9-3.8-4.5 0.1-10.4 1.2-4.5 0-16.5-3.3-7.4-1-9 0.2-19.4 1.5-34.4 0.9-19.5-1.7-25.4-1z"/>
<path fill="#8dff6a" d="M447.8 329.6l189.9 0 0 136-6-0.1-12-1.4-20.9-4-4.5 0.1-10.4 1.2-4.5 0-18-3.7-5.9-0.7-9 0.2-19.4 1.6-34.4 1-6-0.3-13.5-1.9-25.4-0.6z"/>
<path fill="#a0ff56" d="M447.8 329.6l189.9 0 0 133.7-6-0.1-13.5-1.7-19.4-4-4.5 0.1-10.4 1.3-4.5-0.1-18-3.7-5.9-0.8-9 0.2-19.4 1.7-34.4 1.1-6-0.4-13.5-2.3-25.4-0.1z"/>
<path fill="#b4ff43" d="M447.8 329.6l189.9 0 0 131.3-6-0.1-13.5-1.8-19.4-4.1-4.5 0.1-10.4 1.4-4.5-0.1-18-3.9-5.9-0.8-9 0.3-19.4 1.8-34.4 1.1-6-0.5-13.5-2.7-25.4 0.4z"/>
<path fill="#c4ff33" d="M447.8 329.6l189.9 0 0 128.8-6-0.1-10.5-1.4-22.4-4.3-4.5 0.1-10.4 1.3-6-0.2-22.4-4.6-7.5 0.1-18 1.7-37.3 1.4-6-0.6-13.5-2.8-25.4 0.3z"/>
<path fill="#d7ff1f" d="M447.8 329.6l189.9 0 0 126.3-4.5 0-9-1.1-25.4-4.4-14.9 1.2-6-0.1-6-1-13.5-3.3-4.4-0.6-21 1.7-20.9 0.4-19.4 1.2-6-0.5-9-2.3-4.5-0.7-25.4 0.2z"/>
<path fill="#ebff0c" d="M447.8 329.6l189.9 0 0 123.8-6-0.1-32.9-5.2-16.4 1.2-6-0.2-18-4.3-4.4-0.6-19.5 1.6-22.4 0.1-20.9 1.6-4.5-0.5-9-2.5-4.5-0.7-25.4 0.1z"/>
<path fill="#fbf100" d="M447.8 329.6l189.9 0 0 121.3-6-0.2-31.4-4.8-6 0-11.9 1-6-0.1-10.5-2.2-8.9-2.5-3-0.3-19.5 1.6-23.9-0.3-19.4 2-4.5-0.6-9-2.6-4.5-0.7-25.4 0z"/>
<path fill="#ffdb00" d="M447.8 329.6l189.9 0 0 118.6-6-0.1-31.4-4.7-23.9 1-7.8-1.5-11.6-3.4-3-0.3-18 1.6-25.4-0.6-13.4 1.9-6 0.4-4.5-0.6-9-2.7-4.5-0.8-25.4 0z"/>
<path fill="#ffc400" d="M447.8 329.6l189.9 0 0 115.4-6-0.2-31.4-4.9-23.9 1-7.5-1.5-11.9-3.4-3-0.4-18 1.6-25.4-0.7-13.4 2.1-6 0.4-4.5-0.7-9-2.7-4.5-0.9-25.4-0.2 0-31.3 4.5 0 1-0.4 2-1.2 3-2.8 3.4-6 1.3-7.1-1.1-6-1.5-3-2.1-2.9-3-2.8-3-2-4.5 0z"/>
<path fill="#ffb200" d="M461.4 329.6l176.3 0 0 113.2-4.5 0-19.4-3.9-12-1.7-6 0-13.4 1.2-6-0.2-6-1.2-13.4-4-3-0.4-18 1.5-25.4-0.6-14.9 2.6-4.5 0.2-6-1.2-12-4.4-10.3-1.9-1.5-1 2.9-3.8 1.5-3.1 0.3-2.1-0.5-4 3.1-5.6 3-11.4 1.7-10.1 0.8-11-1.1-8-5.2-14-2.6-14.1-1-3-2.9-5zM561.4 374.7l-1.5 1-1.5 2.2-3.8 10.8-0.8 4.1 0.4 3 1.3 2.3 1.8 1.7 2.6 1 3-0.3 3.7-2.7 2.4-4 1-5.1-0.5-6-2.1-5.5-1.5-1.7-1.5-0.9-1.5-0.3zM609.3 363.2l-1.7 1.5-1.5 4-0.6 15 0.8 14.4 1.4 3.7 1.6 1.1 1.5-0.4 0.7-0.7 1.7-3 2.1-10.1 0.6-6-0.6-13-0.6-3-0.9-1.9-1.5-1.5-1.5-0.4z"/>
<path fill="#ff9c00" d="M471.7 329.6l97.4 0 0 3-4.7 4-3 3.6-4.4 6.5-2.1 3.9-3.2 13.1-1.7 15-1.1 3-2.4 3.1-3 2.6-3 2-3 0.8-1.5-0.6-1.5-1.4-3-4.9-16.4-38.7-2.9-5-2.6-3-2-1.5-3-1.3-3-0.2-3 1-2.9 2.5-4.5 6.7-3 3.3-3 1.5-3 0-3-1.2-1.5-1.2-3-4.1-2.8-8.5zM577.2 329.6l24.9 0 0 3-1.2 3-0.5 3-0.6 10-2.2 10.1-0.4 4 1.9 21-0.3 15.1 1.3 6 3.2 7 3 4.3 1.5 0.9 1.5 0.2 1.5-0.4 1.4-1 1.6-2 6.3-16 0.9-6.1 1.8-25-0.2-7-1.4-7.7-3.4-12.4-1.4-3-2.8-4 0-3 24.1 0 0 111.5-6-0.3-19.4-5.3-6-0.8-7.5 0-16.4 1.6-6-0.3-8.7-2.1-12.2-4.6-3-0.6-3 0-9 1.6-4.5 0.2-4.5-0.5-7.4-1.7-3-0.1-6 1.3-7.5 0.7-7.5 2.7-7.4 1.2-3-0.2-3.4-1-4.8-3.1-1.4-2-1.1-3-0.9-9 0.3-2 2.3-9.6 2.6-6.4 3.4-4.7 3-1.5 3 0.4 16.4 11.8 4.5 2.3 3 0.8 3-0.3 1.5-0.7 10.4-7.7 4.5-1.7 3 1.2 12 9.6 4.5 1.6 4.4-0.2 4.5-1.3 4.9-2.6 4.8-4 2.1-3 1.3-3 1.3-8.1-0.3-6-1.8-12-0.3-5 3.1-25.1-0.5-3-1.8-3z"/>
<path fill="#ff8600" d="M523.8 329.6l27.9 0-0.2 4-2.1 7-1.6 4-2.8 4.2-3 2.6-3 1.4-3-0.1-3-1.9-3-3.5-2.9-5.7-3.3-9zM630.4 329.6l7.3 0 0 109.5-6-0.3-5.3-1.9-3.6-2-5.7-5.1-1.4-2-0.8-3 0.6-3 2.9-5 4.3-12 5-7 0.8-2-0.1-5.1 1.1-18 1.7-10 0.6-7zM587.6 401.8l0.7-0.2 1.5 0.7 1.5 1.5 11.6 16 2.1 4-0.3 2-0.8 1-3.4 2-5.7 2-7.9 1.9-4.5 0.5-6-1.2-5.4-2.2-5.6-3-3.7-3-1.3-2-0.5-2 0.8-3 14.2-8.9zM491.8 408.8l2.4-0.6 1.5 0.2 2.9 1.3 3.9 3.1 2.6 4-1 3-3.7 5-3.2 3.1-3 1.3-3-0.4-3-2-2-3-1-4 0-2.2 1.5-3.5 3-3.9zM533.9 410.8l2.1-0.7 3 0.2 3 1.4 2.1 2.1 1.2 2-0.2 2-0.9 2-2 2-3.2 1.3-3 0.1-3-1.3-1.5-1.3-1.5-2.8-0.1-2 1.6-3z"/>
<path fill="#ff7300" d="M631.2 404.8l2-0.5 4.5 0 0 30.5-4.5 0-6-2.7-2.9-3.3-1.6-4-0.1-3 3.8-13 0.8-1.6 1.5-1.4zM581.2 411.8l2.7-0.5 3 0.3 4.4 2.3 4.4 4.9 0.2 2-1 2-3.6 2.4-5.9 1.1-7.5-0.5-4.5-2.1-2.3-2.9-0.2-1 0.9-2 1.8-2 2.8-2z"/>
<path fill="#ff5d00" d="M632.3 414.8l0.9-0.9 4.5 0 0 14-4.5 0-1.5-0.9-1.7-2.2-0.4-2 0.4-3z"/>
<path d="M495.7 498.9l-6.6 1.1-3.9 1-7.5 3.5-5.8 1.5-0.7 1 14 3.2 4.5 0.8 4.4 0.3M508.9 509.7l2.4-1.7 0.9-1 0.2-1-1.8-3-1.5-1.5-2.9-1.5-4.1-1-3.5-0.2-2.9 0.1M637.7 503.7l-4.5 0-4.5 1M613.7 506.2l-5.9-0.3-12-2.8-11.9-1.8-6-0.4-6 0-7.5 0.5-3 0.5-1.5 0.5-2.8 1.6-2.4 2-0.7 1 1.5 1.1 3.3 0.9 5.6 1.1 8.8 0.9 9.2 0.6 7.4-0.1 16.5-1.5 10.5 0.3 4.4 0.3 4.5 0.7 7.5 2.2 4.5 0M447.8 508.3l4.5 0 9-1.2 0.6-0.1 1.1-1-2.2-1-8.5-2.8-4.5 0M637.7 492.8l-25.4-0.5-29.9-1.2M567.4 491.1l-23.9 1.6-12 0.3-17.9-0.6-15-2.2-5.9-0.6-4.5 0.2-12 1.8-4.5 0.2-8.9-0.3-10.5-1.3-4.5 0M447.8 521.7l43.4 0 31.3-0.9M537.6 520.9l22.3 1 46.4 1.4 25.9 1.8 5.5 0M637.7 482.8l-6-0.1-49.3-2.6-25.4-1.8-7.5 0.1-16.5 1.3-5.9 0.3-19.5-0.2-40.3-1.2M452.3 478l-4.5 0M447.8 529.4l35.8-0.3M498.7 528.8l20.3-0.7 17.6 0 77.2 2.2 13.9 0.8 0 3M637.7 472.6l-6-0.1-13.5-1.4-5.9-0.9-10.5-2-3-0.3-4.5 0-8.9 1-4.5 0.2-3-0.2-4.6-0.9M558.5 465.4l-7.5-0.3-23.9 1.4-21 0.6-14.9 0.2-13.5-0.5-11.9-0.8-13.5-1.3-4.5 0M637.7 460.9l-6-0.1-13.5-1.8-5.9-1-9-2.3-3-0.6-4.5-0.2-6 0.7M574.9 455.6l-15-3.4-5.9-0.6-7.5 0.3-19.4 1.8-22.5 0.9-11.9 0.2-3-0.1-3-0.4-9-2.1-4.5-0.6-10.4 0-15 0.4M637.7 448.2l-6-0.1-31.4-4.7-6 0-14.9 1.1-3-0.1-3.2-0.5M558.7 440l-3.2-0.7-3-0.1-16.5 1.6-23.9-0.7-4.5 0.4-10.4 1.6-6 0.4-4.5-0.6-9-2.7-4.5-0.8-25.4 0M581.2 411.8l2.7-0.5 1.5 0.1 2 0.4 2.4 1.1 2.6 1.9 1.9 2 1.4 2 0.3 1-0.1 1-1 2-1.1 1-1.7 1-2.3 0.9-4.4 0.6-4.5 0-3.1-0.5M574 415.5l3.9-2.5 3.3-1.2M637.7 434.8l-4.5 0-3-1-3.3-2-1.9-2-1.7-3-0.8-3 0.1-1.7M626.9 407.7l1.8-1.9 2.5-1 2-0.5 4.5 0" fill="none" stroke="#000" stroke-width="1.3" stroke-linejoin="round"/>
</g>
<path fill="#fff" fill-rule="evenodd" d="M446.3 328.1h192.9v207.5h-192.9z M452.3 332.6h180.9v198.5h-180.9z"/>
<clipPath id="acd"><rect x="422.1" y="332.6" width="242.4" height="214.7"/></clipPath>
<g clip-path="url(#acd)">
<g font-family="'Liberation Sans',sans-serif" font-size="8.4" text-anchor="middle" fill="#000" font-style="italic">
<text transform="translate(501.5 510.5) rotate(-6.1)" y="2.9" textLength="11.9" lengthAdjust="spacingAndGlyphs">110</text>
<text transform="translate(621.2 505.4) rotate(-5.6)" y="2.9" textLength="11.9" lengthAdjust="spacingAndGlyphs">110</text>
<text transform="translate(574.9 491.1) rotate(0.2)" y="2.9" textLength="11.9" lengthAdjust="spacingAndGlyphs">120</text>
<text transform="translate(530 520.8) rotate(0.4)" y="2.9" textLength="11.9" lengthAdjust="spacingAndGlyphs">120</text>
<text transform="translate(459.8 478.3) rotate(2.5)" y="2.9" textLength="11.9" lengthAdjust="spacingAndGlyphs">130</text>
<text transform="translate(491.2 528.9) rotate(-1)" y="2.9" textLength="11.9" lengthAdjust="spacingAndGlyphs">130</text>
<text transform="translate(565.9 466.7) rotate(10)" y="2.9" textLength="11.9" lengthAdjust="spacingAndGlyphs">140</text>
<text transform="translate(582.4 455.6) rotate(0.1)" y="2.9" textLength="11.9" lengthAdjust="spacingAndGlyphs">150</text>
<text transform="translate(566 442) rotate(15.1)" y="2.9" textLength="11.9" lengthAdjust="spacingAndGlyphs">160</text>
<text transform="translate(575.9 420.7) rotate(69.3)" y="2.9" textLength="11.9" lengthAdjust="spacingAndGlyphs">170</text>
<text transform="translate(624.8 414.9) rotate(-73.1)" y="2.9" textLength="11.9" lengthAdjust="spacingAndGlyphs">170</text>
</g>
</g>
<rect x="422.1" y="332.6" width="242.4" height="214.7" fill="none" stroke="#4a4a4a" stroke-width="0.55"/>
<path d="M422.1 547.3h-3.2M422.1 499.8h-3.2M422.1 452.3h-3.2M422.1 404.8h-3.2M422.1 357.3h-3.2M422.1 547.3v3.2M452.4 547.3v3.2M482.7 547.3v3.2M513 547.3v3.2M543.3 547.3v3.2M573.6 547.3v3.2M603.9 547.3v3.2M634.2 547.3v3.2M664.5 547.3v3.2" stroke="#222" stroke-width="0.6" fill="none"/>
<path d="M422.1 338.4h-1.8M422.1 343h-1.8M422.1 346.8h-1.8M422.1 349.9h-1.8M422.1 352.7h-1.8M422.1 355.1h-1.8M422.1 371.6h-1.8M422.1 380h-1.8M422.1 385.9h-1.8M422.1 390.5h-1.8M422.1 394.3h-1.8M422.1 397.4h-1.8M422.1 400.2h-1.8M422.1 402.6h-1.8M422.1 419.1h-1.8M422.1 427.5h-1.8M422.1 433.4h-1.8M422.1 438h-1.8M422.1 441.8h-1.8M422.1 444.9h-1.8M422.1 447.7h-1.8M422.1 450.1h-1.8M422.1 466.6h-1.8M422.1 475h-1.8M422.1 480.9h-1.8M422.1 485.5h-1.8M422.1 489.3h-1.8M422.1 492.4h-1.8M422.1 495.2h-1.8M422.1 497.6h-1.8M422.1 514.1h-1.8M422.1 522.5h-1.8M422.1 528.4h-1.8M422.1 533h-1.8M422.1 536.8h-1.8M422.1 539.9h-1.8M422.1 542.7h-1.8M422.1 545.1h-1.8" stroke="#333" stroke-width="0.45" fill="none"/>
<text x="416.9" y="550.4" font-family="'Liberation Sans',sans-serif" font-size="8.5" text-anchor="end">1000</text>
<text x="416.9" y="502.9" font-family="'Liberation Sans',sans-serif" font-size="8.5" text-anchor="end">100</text>
<text x="416.9" y="455.4" font-family="'Liberation Sans',sans-serif" font-size="8.5" text-anchor="end">10</text>
<text x="416.9" y="407.9" font-family="'Liberation Sans',sans-serif" font-size="8.5" text-anchor="end">1</text>
<text x="416.9" y="360.4" font-family="'Liberation Sans',sans-serif" font-size="8.5" text-anchor="end">0.1</text>
<g font-family="'Liberation Serif',serif" font-size="9.3" text-anchor="middle">
<text x="421.5" y="559.6">−80</text>
<text x="451.8" y="559.6">−60</text>
<text x="482.1" y="559.6">−40</text>
<text x="512.4" y="559.6">−20</text>
<text x="543.3" y="559.6">0</text>
<text x="573.6" y="559.6">20</text>
<text x="603.9" y="559.6">40</text>
<text x="634.2" y="559.6">60</text>
<text x="664.5" y="559.6">80</text>
</g>
<text x="543.3" y="572.2" font-family="'Liberation Sans',sans-serif" font-size="11.3" text-anchor="middle" textLength="36" lengthAdjust="spacingAndGlyphs">Latitude</text>
<text transform="translate(393 439.9) rotate(-90)" font-family="'Liberation Sans',sans-serif" font-size="11.3" text-anchor="middle" textLength="71.5" lengthAdjust="spacingAndGlyphs">Pressure (mbar)</text>
<text x="543.3" y="328.2" font-family="'Liberation Sans',sans-serif" font-size="11.3" text-anchor="middle" textLength="18" lengthAdjust="spacingAndGlyphs">IRIS</text>
<text x="555.2" y="602.2" font-family="'Liberation Serif',serif" font-size="12.6" text-anchor="middle">(d)</text>
<rect x="679.9" y="331.6" width="13.3" height="215.70" fill="#000089"/>
<rect x="679.9" y="331.6" width="13.3" height="210.93" fill="#0000a4"/>
<rect x="679.9" y="331.6" width="13.3" height="206.16" fill="#0000bf"/>
<rect x="679.9" y="331.6" width="13.3" height="201.39" fill="#0000d6"/>
<rect x="679.9" y="331.6" width="13.3" height="196.62" fill="#0000f1"/>
<rect x="679.9" y="331.6" width="13.3" height="191.84" fill="#0000ff"/>
<rect x="679.9" y="331.6" width="13.3" height="187.07" fill="#0010ff"/>
<rect x="679.9" y="331.6" width="13.3" height="182.30" fill="#0028ff"/>
<rect x="679.9" y="331.6" width="13.3" height="177.53" fill="#0040ff"/>
<rect x="679.9" y="331.6" width="13.3" height="172.76" fill="#0058ff"/>
<rect x="679.9" y="331.6" width="13.3" height="167.99" fill="#006cff"/>
<rect x="679.9" y="331.6" width="13.3" height="163.22" fill="#0084ff"/>
<rect x="679.9" y="331.6" width="13.3" height="158.45" fill="#009cff"/>
<rect x="679.9" y="331.6" width="13.3" height="153.68" fill="#00b0ff"/>
<rect x="679.9" y="331.6" width="13.3" height="148.90" fill="#00c8ff"/>
<rect x="679.9" y="331.6" width="13.3" height="144.13" fill="#00e0fb"/>
<rect x="679.9" y="331.6" width="13.3" height="139.36" fill="#0cf4eb"/>
<rect x="679.9" y="331.6" width="13.3" height="134.59" fill="#1fffd7"/>
<rect x="679.9" y="331.6" width="13.3" height="129.82" fill="#33ffc4"/>
<rect x="679.9" y="331.6" width="13.3" height="125.05" fill="#43ffb4"/>
<rect x="679.9" y="331.6" width="13.3" height="120.28" fill="#56ffa0"/>
<rect x="679.9" y="331.6" width="13.3" height="115.51" fill="#6aff8d"/>
<rect x="679.9" y="331.6" width="13.3" height="110.74" fill="#7dff7a"/>
<rect x="679.9" y="331.6" width="13.3" height="105.96" fill="#8dff6a"/>
<rect x="679.9" y="331.6" width="13.3" height="101.19" fill="#a0ff56"/>
<rect x="679.9" y="331.6" width="13.3" height="96.42" fill="#b4ff43"/>
<rect x="679.9" y="331.6" width="13.3" height="91.65" fill="#c4ff33"/>
<rect x="679.9" y="331.6" width="13.3" height="86.88" fill="#d7ff1f"/>
<rect x="679.9" y="331.6" width="13.3" height="82.11" fill="#ebff0c"/>
<rect x="679.9" y="331.6" width="13.3" height="77.34" fill="#fbf100"/>
<rect x="679.9" y="331.6" width="13.3" height="72.57" fill="#ffdb00"/>
<rect x="679.9" y="331.6" width="13.3" height="67.80" fill="#ffc400"/>
<rect x="679.9" y="331.6" width="13.3" height="63.02" fill="#ffb200"/>
<rect x="679.9" y="331.6" width="13.3" height="58.25" fill="#ff9c00"/>
<rect x="679.9" y="331.6" width="13.3" height="53.48" fill="#ff8600"/>
<rect x="679.9" y="331.6" width="13.3" height="48.71" fill="#ff7300"/>
<rect x="679.9" y="331.6" width="13.3" height="43.94" fill="#ff5d00"/>
<rect x="679.9" y="331.6" width="13.3" height="39.17" fill="#ff4700"/>
<rect x="679.9" y="331.6" width="13.3" height="34.40" fill="#ff3000"/>
<rect x="679.9" y="331.6" width="13.3" height="29.63" fill="#ff1e00"/>
<rect x="679.9" y="331.6" width="13.3" height="24.86" fill="#f10800"/>
<rect x="679.9" y="331.6" width="13.3" height="20.08" fill="#d60000"/>
<rect x="679.9" y="331.6" width="13.3" height="15.31" fill="#bf0000"/>
<rect x="679.9" y="331.6" width="13.3" height="10.54" fill="#a40000"/>
<rect x="679.9" y="331.6" width="13.3" height="5.77" fill="#890000"/>
<path fill="#fff" fill-rule="evenodd" d="M678.4 330.1h16.3v219.7h-16.3z M680.9 332.6h11.3v214.7h-11.3z"/>
<rect x="680.9" y="332.6" width="11.3" height="214.7" fill="none" stroke="#222" stroke-width="0.6"/>
<g font-family="'Liberation Serif',serif" font-size="9.3">
<text x="697.1" y="550.9">100</text>
<text x="697.1" y="527">110</text>
<text x="697.1" y="503.2">120</text>
<text x="697.1" y="479.3">130</text>
<text x="697.1" y="455.5">140</text>
<text x="697.1" y="431.6">150</text>
<text x="697.1" y="407.8">160</text>
<text x="697.1" y="383.9">170</text>
<text x="697.1" y="360.1">180</text>
<text x="697.1" y="336.2">190</text>
</g>
<path d="M692.2 547.3h2.6M692.2 523.4h2.6M692.2 499.6h2.6M692.2 475.7h2.6M692.2 451.9h2.6M692.2 428h2.6M692.2 404.2h2.6M692.2 380.3h2.6M692.2 356.5h2.6M692.2 332.6h2.6" stroke="#222" stroke-width="0.6" fill="none"/>
<text transform="translate(720.3 439.9) rotate(-90)" font-family="'Liberation Sans',sans-serif" font-size="8.2" text-anchor="middle" textLength="54" lengthAdjust="spacingAndGlyphs">Temperature (K)</text>
</svg>
</body></html>
